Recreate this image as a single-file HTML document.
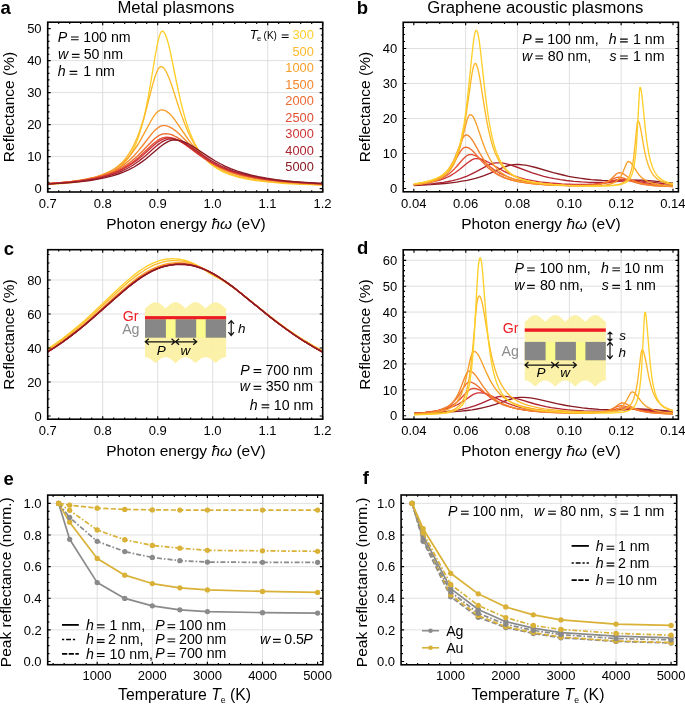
<!DOCTYPE html>
<html><head><meta charset="utf-8"><style>
html,body{margin:0;padding:0;background:#fff;width:685px;height:705px;overflow:hidden}
svg{display:block;will-change:transform}
text{font-family:"Liberation Sans", sans-serif}
</style></head><body>
<svg width="685" height="705" viewBox="0 0 685 705" font-family="Liberation Sans, sans-serif">
<defs>
<clipPath id="ca"><rect x="47.7" y="22.2" width="275.0" height="169.8"/></clipPath>
<clipPath id="cb"><rect x="403.2" y="22.3" width="275.2" height="169.5"/></clipPath>
<clipPath id="cc"><rect x="47.7" y="249.7" width="275.0" height="169.5"/></clipPath>
<clipPath id="cd"><rect x="403.2" y="249.8" width="275.2" height="169.39999999999998"/></clipPath>
</defs>
<rect width="685" height="705" fill="#fff"/>
<line x1="102.70" y1="22.20" x2="102.70" y2="192.00" stroke="#dcdcdc" stroke-width="0.9" />
<line x1="157.70" y1="22.20" x2="157.70" y2="192.00" stroke="#dcdcdc" stroke-width="0.9" />
<line x1="212.70" y1="22.20" x2="212.70" y2="192.00" stroke="#dcdcdc" stroke-width="0.9" />
<line x1="267.70" y1="22.20" x2="267.70" y2="192.00" stroke="#dcdcdc" stroke-width="0.9" />
<line x1="47.70" y1="156.60" x2="322.70" y2="156.60" stroke="#dcdcdc" stroke-width="0.9" />
<line x1="47.70" y1="124.60" x2="322.70" y2="124.60" stroke="#dcdcdc" stroke-width="0.9" />
<line x1="47.70" y1="92.60" x2="322.70" y2="92.60" stroke="#dcdcdc" stroke-width="0.9" />
<line x1="47.70" y1="60.60" x2="322.70" y2="60.60" stroke="#dcdcdc" stroke-width="0.9" />
<line x1="465.64" y1="22.30" x2="465.64" y2="191.80" stroke="#dcdcdc" stroke-width="0.9" />
<line x1="517.48" y1="22.30" x2="517.48" y2="191.80" stroke="#dcdcdc" stroke-width="0.9" />
<line x1="569.32" y1="22.30" x2="569.32" y2="191.80" stroke="#dcdcdc" stroke-width="0.9" />
<line x1="621.16" y1="22.30" x2="621.16" y2="191.80" stroke="#dcdcdc" stroke-width="0.9" />
<line x1="403.20" y1="153.50" x2="678.40" y2="153.50" stroke="#dcdcdc" stroke-width="0.9" />
<line x1="403.20" y1="118.50" x2="678.40" y2="118.50" stroke="#dcdcdc" stroke-width="0.9" />
<line x1="403.20" y1="83.50" x2="678.40" y2="83.50" stroke="#dcdcdc" stroke-width="0.9" />
<line x1="403.20" y1="48.50" x2="678.40" y2="48.50" stroke="#dcdcdc" stroke-width="0.9" />
<line x1="102.70" y1="249.70" x2="102.70" y2="419.20" stroke="#dcdcdc" stroke-width="0.9" />
<line x1="157.70" y1="249.70" x2="157.70" y2="419.20" stroke="#dcdcdc" stroke-width="0.9" />
<line x1="212.70" y1="249.70" x2="212.70" y2="419.20" stroke="#dcdcdc" stroke-width="0.9" />
<line x1="267.70" y1="249.70" x2="267.70" y2="419.20" stroke="#dcdcdc" stroke-width="0.9" />
<line x1="47.70" y1="382.00" x2="322.70" y2="382.00" stroke="#dcdcdc" stroke-width="0.9" />
<line x1="47.70" y1="348.00" x2="322.70" y2="348.00" stroke="#dcdcdc" stroke-width="0.9" />
<line x1="47.70" y1="314.00" x2="322.70" y2="314.00" stroke="#dcdcdc" stroke-width="0.9" />
<line x1="47.70" y1="280.00" x2="322.70" y2="280.00" stroke="#dcdcdc" stroke-width="0.9" />
<line x1="465.80" y1="249.80" x2="465.80" y2="419.20" stroke="#dcdcdc" stroke-width="0.9" />
<line x1="517.60" y1="249.80" x2="517.60" y2="419.20" stroke="#dcdcdc" stroke-width="0.9" />
<line x1="569.40" y1="249.80" x2="569.40" y2="419.20" stroke="#dcdcdc" stroke-width="0.9" />
<line x1="621.20" y1="249.80" x2="621.20" y2="419.20" stroke="#dcdcdc" stroke-width="0.9" />
<line x1="403.20" y1="389.80" x2="678.40" y2="389.80" stroke="#dcdcdc" stroke-width="0.9" />
<line x1="403.20" y1="363.90" x2="678.40" y2="363.90" stroke="#dcdcdc" stroke-width="0.9" />
<line x1="403.20" y1="338.00" x2="678.40" y2="338.00" stroke="#dcdcdc" stroke-width="0.9" />
<line x1="403.20" y1="312.10" x2="678.40" y2="312.10" stroke="#dcdcdc" stroke-width="0.9" />
<line x1="403.20" y1="286.20" x2="678.40" y2="286.20" stroke="#dcdcdc" stroke-width="0.9" />
<line x1="403.20" y1="260.30" x2="678.40" y2="260.30" stroke="#dcdcdc" stroke-width="0.9" />
<line x1="97.20" y1="495.10" x2="97.20" y2="664.70" stroke="#dcdcdc" stroke-width="0.9" />
<line x1="152.30" y1="495.10" x2="152.30" y2="664.70" stroke="#dcdcdc" stroke-width="0.9" />
<line x1="207.40" y1="495.10" x2="207.40" y2="664.70" stroke="#dcdcdc" stroke-width="0.9" />
<line x1="262.50" y1="495.10" x2="262.50" y2="664.70" stroke="#dcdcdc" stroke-width="0.9" />
<line x1="47.70" y1="629.88" x2="322.90" y2="629.88" stroke="#dcdcdc" stroke-width="0.9" />
<line x1="47.70" y1="598.26" x2="322.90" y2="598.26" stroke="#dcdcdc" stroke-width="0.9" />
<line x1="47.70" y1="566.64" x2="322.90" y2="566.64" stroke="#dcdcdc" stroke-width="0.9" />
<line x1="47.70" y1="535.02" x2="322.90" y2="535.02" stroke="#dcdcdc" stroke-width="0.9" />
<line x1="47.70" y1="503.40" x2="322.90" y2="503.40" stroke="#dcdcdc" stroke-width="0.9" />
<line x1="450.70" y1="495.00" x2="450.70" y2="664.80" stroke="#dcdcdc" stroke-width="0.9" />
<line x1="505.80" y1="495.00" x2="505.80" y2="664.80" stroke="#dcdcdc" stroke-width="0.9" />
<line x1="560.90" y1="495.00" x2="560.90" y2="664.80" stroke="#dcdcdc" stroke-width="0.9" />
<line x1="616.00" y1="495.00" x2="616.00" y2="664.80" stroke="#dcdcdc" stroke-width="0.9" />
<line x1="401.10" y1="629.88" x2="676.70" y2="629.88" stroke="#dcdcdc" stroke-width="0.9" />
<line x1="401.10" y1="598.26" x2="676.70" y2="598.26" stroke="#dcdcdc" stroke-width="0.9" />
<line x1="401.10" y1="566.64" x2="676.70" y2="566.64" stroke="#dcdcdc" stroke-width="0.9" />
<line x1="401.10" y1="535.02" x2="676.70" y2="535.02" stroke="#dcdcdc" stroke-width="0.9" />
<line x1="401.10" y1="503.40" x2="676.70" y2="503.40" stroke="#dcdcdc" stroke-width="0.9" />
<path d="M47.7 184.5L56.9 183.9L65.1 183.3L72.5 182.5L79.4 181.7L85.8 180.7L91.3 179.6L96.4 178.4L101.0 177.1L105.1 175.6L109.2 173.9L112.9 172.0L116.1 169.9L119.3 167.6L122.1 165.1L124.8 162.2L127.6 158.8L129.9 155.5L131.7 152.4L133.6 148.9L135.4 144.9L137.2 140.4L138.6 136.6L140.4 130.9L141.8 126.1L143.7 119.0L145.0 113.1L147.8 99.5L150.5 84.0L155.6 53.5L157.0 46.1L157.9 41.7L159.3 36.4L160.2 33.8L161.1 32.0L161.6 31.5L162.0 31.2L162.5 31.2L162.9 31.3L163.4 31.6L163.9 32.0L164.3 32.6L165.2 34.3L166.6 37.8L168.0 42.4L169.4 47.9L170.7 54.0L177.2 85.5L180.8 102.0L182.7 109.4L184.5 116.2L186.3 122.3L188.2 127.8L190.0 132.8L192.3 138.3L194.6 143.2L196.9 147.4L199.2 151.1L202.0 155.0L204.7 158.3L207.9 161.7L211.6 164.8L215.3 167.5L219.4 170.0L223.5 172.1L228.1 174.0L233.2 175.7L238.7 177.3L244.7 178.6L251.1 179.8L258.4 180.9L266.7 181.9L275.4 182.7L285.5 183.5L296.5 184.1L308.9 184.7L322.7 185.2" stroke="#FFCF2A" stroke-width="1.35" fill="none" stroke-linejoin="round" clip-path="url(#ca)"/>
<path d="M47.7 184.0L62.9 182.8L69.7 182.1L75.7 181.3L81.2 180.5L86.7 179.5L91.3 178.4L95.9 177.2L100.0 175.9L103.7 174.5L107.4 172.9L110.6 171.2L113.8 169.2L116.6 167.3L119.3 165.0L122.1 162.4L124.4 159.9L126.2 157.6L128.5 154.4L130.3 151.6L132.2 148.4L134.0 144.8L135.8 140.8L137.2 137.6L139.1 132.8L140.4 128.9L143.7 118.7L146.4 108.7L152.4 85.7L153.8 80.7L155.1 76.3L156.0 73.7L157.0 71.4L158.3 68.8L159.3 67.6L159.7 67.2L160.2 66.9L160.6 66.7L161.1 66.7L162.0 66.9L162.9 67.4L163.9 68.2L164.8 69.4L165.7 70.8L166.6 72.5L168.4 76.5L169.8 80.1L171.7 85.3L179.0 108.0L182.7 118.6L185.0 124.6L186.8 129.1L189.1 134.2L191.4 138.8L193.7 143.0L196.0 146.8L198.3 150.1L201.0 153.7L203.8 156.9L206.5 159.6L209.3 162.1L212.5 164.6L216.2 167.0L219.9 169.2L224.0 171.2L228.6 173.1L233.6 174.8L238.7 176.3L244.2 177.6L250.2 178.8L256.6 179.9L263.9 180.9L271.7 181.8L280.0 182.5L289.2 183.2L299.3 183.8L322.7 184.8" stroke="#FDB92A" stroke-width="1.35" fill="none" stroke-linejoin="round" clip-path="url(#ca)"/>
<path d="M47.7 183.6L60.6 182.6L71.6 181.4L81.2 180.0L85.8 179.1L89.9 178.2L93.6 177.3L97.3 176.3L101.0 175.1L104.2 173.9L107.4 172.6L110.6 171.0L113.4 169.5L116.1 167.9L120.2 164.9L122.5 163.1L124.4 161.4L128.0 157.8L131.7 153.4L135.4 148.4L139.1 142.6L142.7 136.2L150.5 121.7L152.4 118.5L154.2 115.7L155.6 113.9L156.5 112.8L158.3 111.2L159.3 110.6L160.2 110.2L161.1 109.9L162.0 109.9L162.9 110.0L164.3 110.3L165.2 110.7L166.6 111.4L168.9 113.1L170.3 114.4L171.7 115.9L174.0 118.7L176.2 121.8L185.9 136.0L190.5 142.3L193.2 145.8L195.5 148.6L197.8 151.1L200.6 154.0L202.9 156.1L205.6 158.5L208.4 160.7L211.1 162.7L213.9 164.5L216.6 166.2L219.4 167.6L222.6 169.2L226.3 170.8L230.4 172.4L234.6 173.8L239.1 175.1L243.7 176.3L248.8 177.4L254.3 178.4L259.8 179.3L265.8 180.2L272.2 180.9L286.9 182.3L303.4 183.4L322.7 184.3" stroke="#F8A02A" stroke-width="1.35" fill="none" stroke-linejoin="round" clip-path="url(#ca)"/>
<path d="M47.7 183.6L59.6 182.7L70.2 181.6L79.8 180.3L88.1 178.9L95.4 177.3L102.3 175.3L105.5 174.2L108.8 173.0L114.3 170.5L118.4 168.2L122.5 165.6L126.2 162.8L129.9 159.7L134.0 155.7L138.1 151.1L142.3 146.0L150.5 135.3L152.8 132.6L154.7 130.6L157.0 128.5L159.3 126.9L160.6 126.2L161.6 125.9L162.9 125.6L163.9 125.6L165.2 125.6L166.6 125.9L168.0 126.3L169.4 126.8L172.1 128.3L175.3 130.6L177.6 132.5L180.4 135.1L191.4 146.3L196.4 151.2L202.0 155.9L204.7 158.1L207.5 160.1L212.5 163.4L217.6 166.2L223.1 168.9L229.0 171.3L232.7 172.6L236.8 173.9L241.0 175.0L245.6 176.1L254.8 178.0L265.3 179.6L277.2 181.1L290.6 182.3L305.7 183.3L322.7 184.1" stroke="#F5862C" stroke-width="1.35" fill="none" stroke-linejoin="round" clip-path="url(#ca)"/>
<path d="M47.7 183.7L59.2 182.8L69.3 181.9L78.5 180.8L86.7 179.5L94.5 177.9L101.4 176.2L107.8 174.2L113.4 172.0L118.4 169.7L123.0 167.1L127.6 164.1L131.7 161.0L134.9 158.3L138.1 155.4L142.3 151.3L151.5 141.7L154.2 139.1L157.0 136.8L159.3 135.4L161.1 134.5L163.4 133.8L165.2 133.6L168.0 133.8L170.7 134.4L173.5 135.5L176.2 136.9L179.5 138.9L183.1 141.6L195.1 151.4L200.1 155.3L204.7 158.6L208.8 161.3L214.8 164.7L220.8 167.7L227.2 170.3L233.6 172.6L241.4 174.8L249.7 176.7L258.9 178.4L269.0 179.9L280.5 181.2L292.9 182.3L307.1 183.2L322.7 184.0" stroke="#EE6A30" stroke-width="1.35" fill="none" stroke-linejoin="round" clip-path="url(#ca)"/>
<path d="M47.7 183.7L59.2 182.9L69.3 182.0L78.5 181.0L86.7 179.7L94.1 178.4L101.0 176.8L107.4 174.9L113.4 172.8L118.4 170.6L123.0 168.3L127.6 165.6L132.2 162.5L135.4 160.0L138.6 157.4L142.7 153.6L152.4 144.6L155.1 142.3L157.9 140.2L160.2 138.9L162.5 137.9L164.8 137.3L166.6 137.1L169.4 137.3L172.1 137.8L174.9 138.7L178.1 140.2L181.3 142.0L185.0 144.4L197.8 153.9L202.9 157.4L207.0 160.1L211.1 162.5L217.1 165.7L223.1 168.4L229.5 170.9L235.9 173.0L243.7 175.2L252.0 177.0L261.2 178.6L270.8 180.0L281.8 181.2L293.8 182.2L307.5 183.1L322.7 183.9" stroke="#E24E34" stroke-width="1.35" fill="none" stroke-linejoin="round" clip-path="url(#ca)"/>
<path d="M47.7 183.8L59.2 183.0L69.7 182.1L78.9 181.1L87.2 179.9L95.0 178.5L101.9 176.9L108.3 175.1L114.3 173.0L119.3 170.9L123.9 168.7L128.5 166.0L133.1 163.0L136.3 160.6L140.0 157.7L143.7 154.5L153.8 145.3L156.5 143.0L159.3 141.1L161.6 139.8L163.9 138.8L166.1 138.2L168.0 138.0L170.7 138.2L173.5 138.7L176.2 139.6L179.5 141.0L182.2 142.5L185.4 144.5L189.1 147.0L198.3 153.6L202.9 156.8L207.9 160.0L213.0 163.0L218.5 165.8L224.5 168.5L230.9 171.0L237.3 173.1L244.7 175.1L252.9 176.9L262.1 178.5L271.7 179.9L282.8 181.1L294.7 182.2L308.0 183.1L322.7 183.8" stroke="#CE3336" stroke-width="1.35" fill="none" stroke-linejoin="round" clip-path="url(#ca)"/>
<path d="M47.7 184.0L59.6 183.2L70.2 182.3L79.8 181.3L88.6 180.1L96.4 178.8L103.7 177.2L110.1 175.4L116.1 173.4L121.2 171.4L126.2 169.0L130.8 166.5L135.4 163.5L138.6 161.2L142.3 158.4L146.4 154.9L156.0 146.3L158.8 144.1L161.6 142.2L163.9 140.9L166.1 139.9L168.4 139.2L170.7 139.0L173.5 139.2L176.7 139.8L179.5 140.7L182.7 142.1L185.4 143.6L188.6 145.5L206.1 157.4L211.1 160.6L215.7 163.2L221.2 166.0L227.2 168.6L233.6 171.1L240.1 173.1L247.4 175.1L255.7 176.9L264.4 178.5L273.6 179.8L284.1 181.0L295.6 182.0L308.5 182.9L322.7 183.7" stroke="#AD2230" stroke-width="1.35" fill="none" stroke-linejoin="round" clip-path="url(#ca)"/>
<path d="M47.7 184.2L60.1 183.4L71.1 182.6L81.2 181.6L89.9 180.5L98.2 179.2L105.5 177.7L112.4 175.9L118.4 174.0L123.9 171.9L129.0 169.7L134.0 167.0L138.6 164.1L141.8 161.9L145.5 159.2L149.6 155.8L160.2 146.8L162.9 144.7L165.7 142.9L168.0 141.6L170.3 140.7L172.6 140.1L174.9 140.0L177.6 140.1L180.8 140.8L183.6 141.7L186.8 143.1L189.6 144.5L192.8 146.4L210.2 157.9L215.3 161.0L219.9 163.5L225.4 166.3L231.3 168.9L237.3 171.1L243.3 173.0L250.6 175.0L258.4 176.7L266.7 178.2L275.9 179.6L286.0 180.8L297.0 181.8L309.4 182.7L322.7 183.5" stroke="#8A1A24" stroke-width="1.35" fill="none" stroke-linejoin="round" clip-path="url(#ca)"/>
<path d="M413.8 185.5L430.7 184.6L444.7 183.5L451.0 182.8L456.6 182.1L462.0 181.2L467.0 180.3L471.3 179.3L475.4 178.3L479.5 177.1L483.4 175.8L490.3 173.1L502.7 167.7L507.2 166.0L509.6 165.3L511.7 164.9L513.9 164.6L516.1 164.4L519.1 164.5L522.3 164.8L525.6 165.2L529.0 165.8L535.7 167.5L553.2 172.6L563.0 175.0L568.6 176.3L574.2 177.3L579.8 178.2L585.7 179.0L591.1 179.6L596.7 180.0L602.3 180.4L607.9 180.6L617.7 180.6L635.2 180.1L642.7 180.2L652.0 180.9L673.0 183.1" stroke="#8A1A24" stroke-width="1.35" fill="none" stroke-linejoin="round" clip-path="url(#cb)"/>
<path d="M413.8 185.1L427.2 184.2L433.0 183.7L438.4 183.0L443.4 182.3L448.2 181.5L452.5 180.6L456.6 179.6L460.1 178.6L463.5 177.4L467.0 176.1L470.2 174.7L475.8 171.9L486.0 166.3L489.9 164.4L491.8 163.7L493.8 163.2L495.7 162.9L497.5 162.8L500.3 162.9L503.3 163.2L506.3 163.8L509.6 164.7L515.2 166.5L526.9 170.9L532.3 172.9L538.1 174.7L543.7 176.3L549.1 177.6L554.5 178.7L560.4 179.7L566.4 180.5L574.0 181.3L581.8 181.9L589.6 182.3L597.3 182.4L603.6 182.3L609.7 182.0L628.3 180.5L631.7 180.4L635.0 180.5L638.6 180.7L642.7 181.1L661.3 183.3L673.0 184.4" stroke="#AD2230" stroke-width="1.35" fill="none" stroke-linejoin="round" clip-path="url(#cb)"/>
<path d="M413.8 184.6L423.5 183.5L427.9 182.8L431.7 182.1L435.4 181.2L438.9 180.3L442.1 179.3L445.1 178.1L448.0 176.9L450.6 175.6L453.1 174.0L455.5 172.5L459.8 169.2L467.6 162.7L470.7 160.6L472.2 159.7L473.7 159.1L475.2 158.7L476.7 158.6L478.9 158.8L481.0 159.2L483.2 159.9L485.6 160.9L489.7 163.0L499.0 168.5L503.7 171.2L508.9 173.7L514.1 175.8L519.7 177.7L525.8 179.3L532.5 180.6L539.6 181.8L544.8 182.4L550.2 183.0L561.9 183.8L574.6 184.3L586.5 184.3L594.5 184.0L601.7 183.5L608.4 182.7L620.7 180.6L623.9 180.3L627.2 180.3L630.4 180.5L634.1 180.9L648.1 183.2L655.7 184.2L663.9 185.0L673.0 185.6" stroke="#CE3336" stroke-width="1.35" fill="none" stroke-linejoin="round" clip-path="url(#cb)"/>
<path d="M413.8 184.6L418.8 184.1L423.3 183.4L427.4 182.7L431.1 181.9L434.6 180.9L437.8 179.8L440.6 178.7L443.4 177.3L445.8 176.0L448.2 174.4L450.3 172.7L452.5 170.8L454.4 168.9L456.4 166.8L463.1 159.0L465.5 156.7L466.8 155.7L468.1 155.0L469.4 154.6L470.4 154.5L472.2 154.6L473.9 155.1L475.8 155.9L477.8 157.0L481.2 159.5L489.2 166.0L493.6 169.3L498.3 172.3L503.1 174.9L505.7 176.0L508.5 177.2L511.3 178.2L514.3 179.1L520.8 180.7L527.9 182.0L533.6 182.8L539.8 183.5L546.8 184.0L554.1 184.5L562.3 184.9L570.5 185.1L578.3 185.1L585.2 185.0L593.9 184.5L597.6 184.1L601.0 183.7L604.0 183.1L607.1 182.4L614.8 180.2L617.0 179.6L619.4 179.2L621.5 179.2L624.1 179.3L627.0 179.8L640.1 182.9L644.2 183.6L648.6 184.3L653.8 184.9L659.4 185.4L665.6 185.9L673.0 186.2" stroke="#E24E34" stroke-width="1.35" fill="none" stroke-linejoin="round" clip-path="url(#cb)"/>
<path d="M413.8 184.6L418.8 184.0L423.1 183.3L427.0 182.4L430.7 181.4L433.9 180.3L436.9 179.0L439.7 177.5L442.3 175.8L444.5 174.1L446.7 172.1L448.6 170.0L450.6 167.5L453.4 163.4L459.4 153.1L460.7 151.1L461.8 149.6L462.9 148.5L463.7 147.8L464.8 147.3L465.7 147.1L467.0 147.3L468.5 147.8L470.0 148.7L471.7 150.0L473.2 151.5L474.8 153.1L481.9 161.4L485.8 165.6L487.9 167.7L490.1 169.5L492.3 171.2L494.4 172.7L497.0 174.3L499.6 175.7L502.4 177.0L505.2 178.1L508.3 179.1L511.5 180.1L515.0 180.9L518.6 181.7L524.9 182.7L531.8 183.6L539.6 184.3L548.5 184.9L558.6 185.3L569.2 185.5L579.0 185.5L587.0 185.3L591.5 185.1L595.6 184.7L599.1 184.1L602.3 183.4L604.9 182.7L607.5 181.7L609.7 180.7L614.0 178.4L615.5 177.8L617.2 177.3L618.7 177.2L620.7 177.4L622.6 177.8L625.0 178.7L631.1 181.1L634.1 182.2L638.2 183.4L642.7 184.3L648.4 185.1L655.1 185.8L663.1 186.2L673.0 186.6" stroke="#EE6A30" stroke-width="1.35" fill="none" stroke-linejoin="round" clip-path="url(#cb)"/>
<path d="M413.8 184.7L419.4 184.0L424.4 183.1L428.7 182.1L432.6 180.9L436.1 179.5L439.1 177.9L441.9 176.0L444.5 173.8L446.4 171.8L448.2 169.7L449.9 167.2L451.6 164.3L453.4 161.0L455.3 156.7L460.7 142.8L462.4 138.9L463.5 137.0L464.4 135.9L465.3 135.2L466.1 134.9L466.8 135.0L467.4 135.1L468.7 135.9L470.0 137.1L471.3 138.6L472.6 140.5L473.9 142.7L480.2 153.9L483.4 159.2L485.4 162.1L487.3 164.6L489.2 166.8L491.4 169.1L493.8 171.2L496.2 173.0L498.8 174.7L501.4 176.1L504.2 177.4L507.2 178.6L510.4 179.7L514.1 180.7L520.6 182.1L527.9 183.2L536.6 184.2L546.5 184.9L559.1 185.4L572.3 185.7L583.3 185.6L591.9 185.2L596.5 184.8L600.1 184.2L603.2 183.4L606.0 182.3L608.4 181.1L610.5 179.6L612.5 177.8L615.7 174.6L617.0 173.5L618.3 172.9L619.0 172.7L619.6 172.7L621.3 173.0L623.3 173.9L625.0 175.0L630.2 178.7L632.1 179.9L633.9 180.8L637.3 182.3L641.2 183.5L643.8 184.1L646.8 184.6L653.5 185.5L662.0 186.1L673.0 186.6" stroke="#F5862C" stroke-width="1.35" fill="none" stroke-linejoin="round" clip-path="url(#cb)"/>
<path d="M413.8 184.9L420.7 184.1L426.8 183.1L432.0 181.8L436.3 180.4L438.2 179.6L440.2 178.6L441.9 177.6L443.6 176.5L445.1 175.3L446.7 174.0L448.2 172.4L449.5 170.9L451.6 167.9L453.6 164.6L455.3 161.0L457.0 156.7L458.8 151.6L460.5 145.7L462.2 139.1L465.5 125.8L467.0 120.3L467.8 117.9L468.7 116.0L469.1 115.4L469.6 114.9L470.2 114.6L470.7 114.6L471.3 114.9L472.4 115.8L473.5 117.4L474.5 119.5L475.6 122.0L476.7 124.9L482.1 140.8L485.1 148.8L486.9 152.9L488.6 156.5L490.3 159.6L492.3 162.8L494.4 165.8L496.6 168.3L499.0 170.7L501.4 172.7L504.2 174.6L507.0 176.3L510.0 177.7L513.5 179.1L516.7 180.1L520.4 181.1L524.3 181.9L528.6 182.7L533.1 183.3L538.3 183.9L550.2 184.9L558.2 185.3L566.9 185.6L575.9 185.8L584.6 185.9L591.5 185.8L597.3 185.6L602.1 185.3L606.2 184.8L610.1 184.0L611.8 183.5L613.3 182.9L614.6 182.3L615.9 181.5L617.2 180.5L618.3 179.5L619.4 178.3L620.3 177.1L622.0 174.2L623.5 170.8L625.9 164.9L626.7 163.1L627.6 161.9L628.0 161.6L628.5 161.5L629.1 161.6L630.0 162.1L630.6 162.7L631.5 163.6L632.8 165.4L637.1 172.2L638.6 174.2L640.1 176.0L641.4 177.3L643.0 178.6L644.5 179.7L646.2 180.7L648.4 181.8L650.7 182.7L653.3 183.5L656.4 184.2L659.6 184.7L663.5 185.3L667.8 185.7L673.0 186.0" stroke="#F8A02A" stroke-width="1.35" fill="none" stroke-linejoin="round" clip-path="url(#cb)"/>
<path d="M413.8 184.0L418.1 183.4L422.2 182.7L425.9 182.0L429.1 181.2L432.2 180.3L435.0 179.3L437.6 178.2L440.0 177.0L442.1 175.7L444.3 174.1L446.2 172.4L448.0 170.7L449.7 168.7L451.2 166.6L452.7 164.2L454.2 161.5L456.4 156.7L458.5 150.7L460.5 143.9L462.2 136.6L464.0 127.8L465.7 117.5L467.4 105.8L470.7 82.2L472.2 72.6L473.0 68.4L473.7 66.0L474.1 64.8L474.5 64.0L475.0 63.6L475.2 63.5L475.6 63.6L476.1 64.1L476.5 64.8L476.9 65.8L477.8 68.6L478.7 72.3L480.2 80.4L484.7 109.1L487.3 123.8L488.6 130.1L490.1 136.6L491.6 142.3L493.1 147.3L494.9 152.2L496.8 156.8L499.0 161.0L501.1 164.5L503.5 167.6L506.1 170.4L508.9 172.8L512.2 175.1L515.6 177.0L519.3 178.6L523.4 180.0L528.2 181.2L533.3 182.3L539.4 183.2L546.1 184.0L553.5 184.6L564.7 185.3L577.2 185.7L590.4 185.9L601.4 185.9L608.8 185.6L614.4 185.1L616.8 184.7L618.7 184.3L620.5 183.8L622.2 183.1L623.9 182.3L625.4 181.2L626.7 179.9L627.8 178.6L628.9 176.8L629.8 175.0L630.6 172.6L631.5 169.6L632.6 164.6L633.7 157.7L634.7 148.3L636.9 125.9L637.5 121.8L637.8 121.2L638.0 120.9L638.4 121.1L639.1 122.3L639.5 123.6L640.1 126.2L641.0 130.6L644.2 149.1L645.3 154.4L646.4 158.9L647.5 162.7L648.6 166.0L649.9 169.2L651.2 171.8L652.9 174.5L654.6 176.6L656.8 178.6L659.2 180.3L662.0 181.7L665.0 182.8L668.7 183.8L673.0 184.6" stroke="#FDB92A" stroke-width="1.35" fill="none" stroke-linejoin="round" clip-path="url(#cb)"/>
<path d="M413.8 183.8L418.3 183.1L422.7 182.4L426.6 181.5L430.0 180.6L433.3 179.5L436.3 178.3L438.9 177.0L441.5 175.5L443.6 174.0L445.8 172.2L447.7 170.2L449.7 167.9L451.4 165.4L452.9 162.9L454.4 160.0L456.0 156.5L457.0 153.7L458.1 150.5L459.2 146.9L460.3 142.8L462.2 134.0L464.0 124.4L465.7 112.6L467.4 98.6L468.9 84.7L472.0 54.5L473.5 41.5L474.3 35.8L475.0 32.8L475.6 30.9L476.1 30.3L476.3 30.3L476.5 30.3L476.9 30.8L477.6 32.5L478.2 35.2L479.1 40.2L480.6 51.8L484.7 89.4L486.9 106.9L488.2 116.0L489.5 124.0L490.8 130.9L492.3 137.9L494.0 144.7L495.7 150.2L497.7 155.4L499.6 159.6L501.8 163.5L503.1 165.5L504.4 167.2L505.7 168.8L507.2 170.4L508.7 171.8L510.2 173.1L511.9 174.3L513.7 175.4L517.4 177.4L521.5 179.1L526.2 180.6L531.6 181.9L537.7 182.9L544.6 183.8L552.4 184.5L564.7 185.3L579.2 185.8L594.1 186.0L606.2 185.9L613.6 185.5L616.4 185.2L619.0 184.8L621.1 184.3L623.1 183.7L624.8 183.0L626.3 182.1L628.0 180.8L629.3 179.3L630.4 177.7L631.5 175.5L632.4 173.1L633.2 170.0L634.1 165.9L634.7 161.8L635.6 154.6L636.5 144.7L637.3 131.1L639.3 93.6L639.7 88.8L639.9 87.6L640.1 87.4L640.4 87.6L640.6 88.0L641.0 89.5L641.9 95.0L642.7 102.7L645.3 128.9L646.4 138.1L647.3 144.5L648.4 151.1L649.4 156.6L650.5 161.0L651.8 165.3L653.3 169.2L655.1 172.5L657.0 175.4L658.1 176.6L659.4 177.9L660.7 178.9L662.0 179.8L663.5 180.7L665.2 181.5L668.9 182.9L673.0 183.9" stroke="#FFCF2A" stroke-width="1.35" fill="none" stroke-linejoin="round" clip-path="url(#cb)"/>
<path d="M47.7 348.7L55.5 343.5L62.9 338.2L70.2 332.6L78.0 326.1L84.9 320.2L92.7 313.1L115.6 291.3L123.5 284.1L131.3 277.3L134.9 274.4L138.6 271.6L143.2 268.5L147.8 265.7L151.9 263.6L156.0 261.8L160.2 260.4L164.3 259.5L168.4 258.9L172.6 258.7L175.3 258.8L177.6 259.0L180.4 259.4L182.7 259.9L185.4 260.5L187.7 261.2L190.0 262.1L192.3 263.0L195.1 264.4L197.8 265.9L201.0 267.8L210.2 273.7L213.4 275.6L220.8 279.5L224.9 281.9L230.9 285.9L237.8 290.9L245.1 296.6L261.6 309.8L269.9 316.3L278.6 322.9L286.4 328.5L295.6 334.8L304.3 340.4L313.5 345.8L322.7 350.9" stroke="#FFCF2A" stroke-width="1.35" fill="none" stroke-linejoin="round" clip-path="url(#cc)"/>
<path d="M47.7 349.8L55.5 344.7L62.9 339.4L70.2 333.9L78.0 327.6L84.9 321.7L92.2 315.2L115.6 293.5L123.9 286.0L128.5 282.1L132.6 278.7L136.3 275.9L140.0 273.2L144.6 270.2L149.2 267.5L153.8 265.2L157.9 263.6L162.5 262.1L166.6 261.2L170.7 260.7L175.3 260.6L180.4 260.8L185.0 261.5L187.7 262.1L190.0 262.8L194.6 264.4L198.3 266.1L202.4 268.2L217.1 276.6L221.2 279.1L228.1 283.6L235.9 289.3L243.7 295.4L261.2 309.5L269.4 316.1L278.2 322.8L286.4 328.8L295.6 335.1L304.3 340.7L313.5 346.2L322.7 351.3" stroke="#FDB92A" stroke-width="1.35" fill="none" stroke-linejoin="round" clip-path="url(#cc)"/>
<path d="M47.7 351.0L55.0 346.3L62.4 341.2L69.7 335.8L77.5 329.7L84.4 324.0L92.2 317.2L116.1 295.6L124.4 288.4L129.0 284.5L133.1 281.2L137.2 278.1L140.9 275.6L145.9 272.3L150.5 269.8L155.1 267.6L159.7 265.8L164.3 264.4L168.9 263.4L173.5 262.9L178.5 262.7L183.1 262.9L187.7 263.5L191.9 264.4L196.4 265.8L201.0 267.5L206.1 269.9L211.6 272.8L217.6 276.3L221.2 278.6L225.4 281.4L229.5 284.4L234.1 287.8L242.8 294.7L261.2 309.7L269.4 316.3L278.2 323.0L286.4 329.1L295.6 335.5L304.3 341.1L313.5 346.7L322.7 351.8" stroke="#F8A02A" stroke-width="1.35" fill="none" stroke-linejoin="round" clip-path="url(#cc)"/>
<path d="M47.7 351.5L55.0 346.8L62.4 341.8L69.7 336.4L77.5 330.3L84.4 324.7L92.2 318.0L116.1 296.6L124.4 289.4L129.0 285.6L133.6 282.0L137.7 278.9L141.4 276.4L146.4 273.2L151.5 270.4L156.0 268.3L160.6 266.6L165.2 265.2L169.8 264.3L174.9 263.7L179.9 263.6L184.5 263.8L189.1 264.4L193.2 265.3L197.8 266.6L202.4 268.3L207.5 270.6L212.5 273.3L217.6 276.3L221.2 278.6L225.4 281.4L234.1 287.9L242.8 294.8L261.2 309.8L269.4 316.4L278.2 323.1L286.4 329.2L295.6 335.6L304.8 341.6L313.5 346.8L322.7 351.9" stroke="#F5862C" stroke-width="1.35" fill="none" stroke-linejoin="round" clip-path="url(#cc)"/>
<path d="M47.7 351.7L55.0 347.0L62.4 342.0L69.7 336.7L77.5 330.6L84.4 325.0L92.2 318.3L116.1 297.1L124.8 289.5L129.4 285.8L134.0 282.2L138.1 279.1L141.8 276.6L146.9 273.5L151.5 271.0L156.5 268.7L161.1 266.9L165.7 265.6L170.3 264.7L175.3 264.2L180.4 264.0L185.0 264.2L189.6 264.8L193.7 265.6L198.3 267.0L202.9 268.7L207.5 270.7L212.5 273.3L217.6 276.3L221.2 278.7L225.4 281.5L234.1 287.9L242.8 294.8L261.2 309.8L269.4 316.4L278.2 323.2L286.4 329.3L295.6 335.7L304.8 341.7L313.5 346.9L322.7 352.0" stroke="#EE6A30" stroke-width="1.35" fill="none" stroke-linejoin="round" clip-path="url(#cc)"/>
<path d="M47.7 351.8L55.0 347.2L62.4 342.1L69.7 336.8L77.5 330.8L84.4 325.1L92.2 318.5L116.1 297.3L124.8 289.8L129.4 286.0L134.0 282.4L138.1 279.4L141.8 276.9L146.9 273.7L151.5 271.2L156.5 268.9L161.1 267.2L165.7 265.8L170.3 264.9L175.3 264.3L180.4 264.2L185.0 264.3L189.6 264.9L193.7 265.7L198.3 267.0L202.9 268.7L207.5 270.8L212.5 273.4L217.6 276.3L221.2 278.7L225.4 281.5L230.0 284.8L234.6 288.3L243.3 295.2L261.2 309.8L269.4 316.4L278.2 323.2L286.4 329.3L295.6 335.7L304.8 341.7L313.5 347.0L322.7 352.1" stroke="#E24E34" stroke-width="1.35" fill="none" stroke-linejoin="round" clip-path="url(#cc)"/>
<path d="M47.7 351.9L55.0 347.2L62.4 342.2L69.7 336.8L77.5 330.8L84.4 325.2L92.2 318.5L116.1 297.3L124.8 289.8L129.4 286.1L134.0 282.5L138.1 279.5L141.8 276.9L146.9 273.8L151.9 271.1L157.0 268.8L161.6 267.1L166.1 265.8L170.7 264.9L175.8 264.4L180.8 264.2L185.4 264.4L189.6 264.9L194.2 265.9L198.7 267.2L203.3 268.9L207.9 271.0L212.5 273.4L217.6 276.4L221.2 278.7L225.4 281.5L230.0 284.8L234.6 288.3L243.3 295.2L261.2 309.8L269.4 316.5L278.2 323.2L286.4 329.3L295.6 335.7L304.8 341.7L313.5 347.0L322.7 352.1" stroke="#CE3336" stroke-width="1.35" fill="none" stroke-linejoin="round" clip-path="url(#cc)"/>
<path d="M47.7 351.9L55.0 347.2L62.4 342.2L69.7 336.9L77.5 330.8L84.4 325.2L92.2 318.6L116.1 297.4L124.8 289.9L129.4 286.1L134.0 282.6L138.1 279.5L141.8 277.0L146.9 273.9L151.9 271.1L157.0 268.9L161.6 267.2L166.1 265.9L170.7 265.0L175.8 264.4L180.8 264.3L185.4 264.5L189.6 265.0L194.2 265.9L198.7 267.3L203.3 269.0L207.9 271.0L212.5 273.4L217.6 276.4L221.2 278.7L225.4 281.5L230.0 284.9L234.6 288.3L243.3 295.2L261.2 309.8L269.4 316.5L278.2 323.2L286.4 329.3L295.6 335.7L304.8 341.7L313.5 347.0L322.7 352.1" stroke="#AD2230" stroke-width="1.35" fill="none" stroke-linejoin="round" clip-path="url(#cc)"/>
<path d="M47.7 351.9L55.0 347.3L62.4 342.3L69.7 336.9L77.5 330.9L84.4 325.3L92.2 318.6L116.1 297.5L124.8 290.0L129.4 286.2L134.0 282.6L138.1 279.6L141.8 277.1L146.9 274.0L151.9 271.2L157.0 268.9L161.6 267.2L166.1 266.0L170.7 265.1L175.8 264.5L180.8 264.4L185.4 264.5L189.6 265.0L194.2 266.0L198.7 267.3L203.3 269.0L207.9 271.1L212.5 273.4L217.6 276.4L221.2 278.7L225.4 281.6L230.0 284.9L234.6 288.3L243.3 295.2L261.2 309.8L269.4 316.5L278.2 323.2L286.4 329.3L295.6 335.8L304.8 341.7L313.5 347.0L322.7 352.1" stroke="#8A1A24" stroke-width="1.35" fill="none" stroke-linejoin="round" clip-path="url(#cc)"/>
<path d="M414.0 413.6L433.0 413.0L448.3 412.2L461.1 411.1L466.7 410.5L472.1 409.8L476.9 409.0L481.2 408.1L485.3 407.2L489.4 406.1L495.4 404.3L508.0 400.0L512.9 398.5L515.1 398.0L517.3 397.6L519.4 397.4L521.4 397.3L524.2 397.4L527.2 397.6L530.2 397.9L533.5 398.4L539.7 399.6L556.8 403.6L566.3 405.5L571.7 406.4L577.1 407.2L582.5 407.9L588.1 408.5L599.1 409.3L610.4 409.6L620.1 409.6L637.4 409.0L644.7 409.1L654.4 409.6L673.0 411.3" stroke="#8A1A24" stroke-width="1.35" fill="none" stroke-linejoin="round" clip-path="url(#cd)"/>
<path d="M414.0 413.5L429.3 412.8L441.9 412.0L452.2 410.9L457.0 410.2L461.3 409.4L465.0 408.6L468.7 407.7L472.1 406.7L475.3 405.7L481.2 403.4L491.5 398.9L495.2 397.6L497.2 397.0L498.9 396.7L500.6 396.5L502.3 396.4L504.9 396.5L507.7 396.7L510.6 397.2L513.6 397.8L518.8 399.2L535.0 404.0L540.6 405.4L546.0 406.6L551.2 407.6L556.6 408.4L562.2 409.2L568.2 409.8L575.8 410.4L583.8 410.9L591.8 411.1L599.6 411.2L605.8 411.1L612.1 410.8L630.9 409.4L634.1 409.3L637.4 409.4L641.2 409.5L645.6 409.8L663.1 411.6L673.0 412.4" stroke="#AD2230" stroke-width="1.35" fill="none" stroke-linejoin="round" clip-path="url(#cd)"/>
<path d="M414.0 413.1L425.2 412.3L434.3 411.2L438.2 410.6L441.9 409.9L445.3 409.1L448.6 408.1L451.4 407.2L454.0 406.2L456.6 405.0L458.9 403.8L463.3 401.2L471.0 395.9L473.8 394.2L475.3 393.6L476.6 393.2L477.9 392.9L479.2 392.8L481.2 392.9L483.3 393.2L485.5 393.7L487.9 394.5L491.8 396.1L500.8 400.4L505.4 402.4L510.6 404.4L515.7 406.1L521.4 407.6L527.2 408.8L533.7 409.8L540.8 410.7L551.6 411.6L563.9 412.2L576.9 412.5L589.2 412.5L597.2 412.2L604.3 411.7L611.0 411.0L623.3 409.2L626.6 408.9L629.6 408.9L633.0 409.1L636.7 409.4L650.5 411.3L657.7 412.1L665.0 412.8L673.0 413.3" stroke="#CE3336" stroke-width="1.35" fill="none" stroke-linejoin="round" clip-path="url(#cd)"/>
<path d="M414.0 413.3L425.2 412.5L430.0 411.9L434.1 411.3L438.0 410.6L441.4 409.7L444.7 408.8L447.5 407.7L449.9 406.6L452.2 405.3L454.6 403.8L456.8 402.2L460.0 399.3L466.7 392.3L468.0 391.1L469.3 390.0L470.4 389.3L471.5 388.8L472.5 388.5L473.4 388.4L474.9 388.5L476.6 388.9L478.4 389.5L480.3 390.4L483.6 392.4L491.3 397.7L495.4 400.3L500.0 402.8L504.7 404.9L509.9 406.8L515.7 408.3L522.0 409.6L529.1 410.7L535.0 411.3L541.2 411.9L548.4 412.3L555.9 412.7L564.3 412.9L572.8 413.1L580.8 413.1L587.9 412.9L596.5 412.5L603.7 411.7L606.7 411.3L609.7 410.6L619.6 408.2L622.0 407.8L624.2 407.8L626.8 407.9L629.8 408.3L642.5 410.9L646.4 411.6L650.5 412.2L655.3 412.7L660.5 413.1L673.0 413.8" stroke="#E24E34" stroke-width="1.35" fill="none" stroke-linejoin="round" clip-path="url(#cd)"/>
<path d="M414.0 413.4L420.3 413.0L425.7 412.5L430.4 411.9L434.5 411.1L438.2 410.3L441.6 409.2L444.7 408.0L447.3 406.7L449.2 405.5L451.2 404.1L453.1 402.3L454.8 400.5L456.6 398.5L458.5 395.8L463.9 387.1L465.6 384.6L466.7 383.4L467.6 382.6L468.7 382.1L469.5 382.0L470.8 382.1L472.3 382.6L473.8 383.3L475.3 384.2L478.2 386.5L485.3 393.2L489.2 396.6L491.3 398.2L493.5 399.7L495.7 401.1L498.0 402.4L500.6 403.7L503.2 404.8L506.0 405.8L508.8 406.7L515.1 408.3L522.2 409.7L528.5 410.5L535.6 411.3L543.6 411.9L552.5 412.4L562.6 412.7L573.0 412.9L582.3 413.0L590.1 412.8L594.6 412.5L598.7 412.2L602.1 411.7L605.2 411.1L607.8 410.4L610.4 409.6L616.4 406.9L618.1 406.3L619.9 405.8L621.4 405.7L623.3 405.9L625.3 406.3L627.6 407.0L633.7 409.2L636.7 410.1L640.6 411.1L644.9 411.9L650.1 412.6L656.4 413.2L663.9 413.6L673.0 413.9" stroke="#EE6A30" stroke-width="1.35" fill="none" stroke-linejoin="round" clip-path="url(#cd)"/>
<path d="M414.0 413.8L421.1 413.3L427.0 412.8L432.1 412.1L436.5 411.2L440.4 410.2L443.6 409.0L446.6 407.5L449.2 405.7L451.2 404.1L453.1 402.0L454.8 399.7L456.3 397.4L458.1 394.1L459.8 390.3L464.5 378.0L466.1 374.6L466.9 373.0L467.8 371.9L468.7 371.3L469.5 371.1L470.6 371.3L471.9 371.9L473.2 372.8L474.5 374.1L476.9 377.1L483.1 386.4L486.6 391.0L488.5 393.3L490.5 395.3L492.4 397.1L494.4 398.8L496.7 400.5L499.1 402.0L501.7 403.4L504.5 404.7L507.5 405.9L510.6 406.9L513.8 407.8L517.5 408.6L524.0 409.8L531.3 410.8L539.9 411.6L549.7 412.3L562.0 412.8L574.7 413.1L585.9 413.1L594.6 412.8L599.1 412.5L602.8 412.0L606.0 411.4L608.8 410.6L611.2 409.6L613.4 408.4L615.3 407.0L618.6 404.5L619.9 403.6L621.2 403.0L622.5 402.9L624.2 403.2L626.1 403.9L627.9 404.8L633.0 407.7L636.5 409.3L639.7 410.4L643.4 411.4L648.6 412.3L655.1 413.0L663.1 413.6L673.0 414.0" stroke="#F5862C" stroke-width="1.35" fill="none" stroke-linejoin="round" clip-path="url(#cd)"/>
<path d="M414.0 414.1L423.1 413.7L430.4 413.1L436.5 412.3L441.4 411.3L445.5 410.1L447.5 409.4L449.2 408.6L450.7 407.7L452.2 406.7L453.7 405.4L455.0 404.2L457.0 401.9L458.9 398.9L460.7 395.4L462.2 391.7L463.9 386.4L465.4 380.8L466.7 375.3L469.7 361.5L471.0 356.5L471.9 354.0L472.5 352.6L473.2 351.8L473.6 351.5L474.1 351.4L475.1 351.7L476.2 352.4L477.3 353.6L478.6 355.5L480.7 359.7L486.8 373.4L490.0 380.1L491.8 383.2L493.7 386.3L495.7 389.1L497.6 391.5L499.8 393.9L502.1 396.1L504.7 398.2L507.3 400.0L510.1 401.6L513.2 403.1L516.4 404.4L520.1 405.7L523.5 406.6L527.2 407.5L531.3 408.4L535.6 409.1L545.3 410.3L556.8 411.3L571.9 412.1L587.7 412.4L594.2 412.4L599.8 412.3L604.5 412.0L608.4 411.7L612.5 411.0L616.0 410.1L617.5 409.5L618.8 408.8L620.1 408.0L621.4 407.1L623.3 405.2L625.3 402.5L626.8 400.0L629.4 395.0L630.4 393.3L631.1 392.5L631.5 392.2L632.0 392.0L632.4 391.9L633.0 392.0L633.9 392.4L634.5 392.9L635.4 393.7L636.7 395.3L641.0 401.1L642.5 402.9L643.8 404.2L646.4 406.4L647.9 407.4L649.5 408.2L651.4 409.1L653.6 409.9L655.9 410.6L658.7 411.3L661.8 411.8L665.0 412.3L673.0 413.0" stroke="#F8A02A" stroke-width="1.35" fill="none" stroke-linejoin="round" clip-path="url(#cd)"/>
<path d="M414.0 414.5L426.7 414.1L436.0 413.5L439.9 413.1L443.2 412.7L446.2 412.1L448.8 411.5L451.2 410.7L453.3 409.8L455.3 408.8L457.0 407.6L458.5 406.3L460.0 404.7L461.3 403.0L462.6 400.9L463.7 398.8L464.5 396.7L465.4 394.3L466.3 391.6L467.8 385.4L469.3 377.3L470.6 368.2L471.9 356.8L473.2 343.2L475.6 315.8L476.6 305.5L477.3 301.0L477.9 298.0L478.6 296.4L478.8 296.2L479.2 296.0L479.7 296.1L479.9 296.3L480.3 296.9L480.7 297.9L481.4 299.8L482.3 303.3L484.0 312.5L488.3 339.1L490.5 350.7L491.8 356.8L493.3 363.0L494.8 368.4L496.5 373.7L498.5 378.7L500.4 382.9L502.6 386.7L504.7 389.9L507.1 392.9L509.9 395.7L512.9 398.2L516.2 400.3L519.8 402.2L523.7 403.9L528.3 405.4L533.2 406.7L538.6 407.9L544.7 408.9L551.6 409.7L559.2 410.5L569.7 411.2L581.2 411.7L592.9 412.0L603.0 412.0L610.4 411.8L616.0 411.3L620.5 410.5L622.5 410.0L624.2 409.4L625.9 408.6L627.6 407.5L629.1 406.3L630.4 404.8L631.5 403.3L632.6 401.3L633.7 398.8L634.5 396.2L635.4 393.0L636.1 390.1L637.4 382.7L638.2 376.5L640.2 359.8L641.0 353.4L641.7 350.5L641.9 350.0L642.1 349.8L642.3 349.8L642.8 350.1L643.4 351.3L643.8 352.6L644.5 355.0L645.6 360.0L648.6 375.8L649.7 380.7L650.8 385.0L651.8 388.7L652.9 391.9L654.0 394.6L655.1 396.8L656.6 399.5L658.1 401.6L660.0 403.8L662.0 405.4L664.1 406.9L666.7 408.2L669.8 409.3L673.0 410.3" stroke="#FDB92A" stroke-width="1.35" fill="none" stroke-linejoin="round" clip-path="url(#cd)"/>
<path d="M414.0 414.8L428.5 414.4L438.8 413.8L442.9 413.4L446.4 413.0L449.4 412.4L452.0 411.7L454.4 410.9L456.6 409.9L458.5 408.7L460.2 407.3L461.7 405.8L463.0 404.0L464.3 401.8L465.4 399.5L466.5 396.7L467.4 393.9L468.2 390.5L468.9 387.5L469.7 382.8L470.4 378.5L471.7 367.8L473.0 353.3L474.1 337.9L476.9 287.7L477.9 271.1L478.6 264.1L479.0 261.0L479.2 259.9L479.7 258.5L479.9 258.1L480.3 257.9L480.5 258.1L480.7 258.5L481.4 261.3L481.8 264.4L482.5 270.5L483.3 280.6L486.1 316.7L487.2 328.9L488.3 339.4L489.2 346.8L490.3 354.7L491.1 360.2L492.2 366.1L493.7 373.0L495.2 378.5L496.9 383.6L498.7 387.7L500.6 391.4L501.7 393.1L503.0 394.9L504.3 396.5L505.6 397.9L508.4 400.5L509.9 401.6L511.6 402.7L513.6 403.8L515.5 404.7L519.8 406.4L524.6 407.9L530.2 409.1L536.5 410.1L543.8 411.0L552.2 411.7L565.6 412.5L581.4 413.0L597.6 413.2L610.4 413.1L617.9 412.7L620.9 412.3L623.5 412.0L625.9 411.5L627.9 410.9L629.6 410.2L631.1 409.3L632.8 407.9L634.1 406.5L635.2 404.9L636.3 402.8L637.1 400.5L638.0 397.5L638.9 393.5L639.5 389.6L640.6 380.6L641.5 370.2L642.3 356.1L644.1 321.3L644.5 315.2L644.7 313.3L644.9 312.4L645.1 312.3L645.4 312.6L645.8 314.4L646.2 317.3L646.6 321.3L649.5 355.3L650.3 364.4L651.2 372.0L652.0 378.4L652.9 383.6L653.8 387.9L654.9 392.2L656.2 396.2L657.7 399.7L659.4 402.6L660.3 403.8L661.3 405.1L662.4 406.1L663.7 407.1L666.3 408.7L669.3 410.0L673.0 411.1" stroke="#FFCF2A" stroke-width="1.35" fill="none" stroke-linejoin="round" clip-path="url(#cd)"/>
<path d="M58.63 503.40L69.65 539.29L97.20 582.61L124.75 598.42L152.30 605.85L179.85 609.80L207.40 611.54L262.50 612.65L317.60 613.12" stroke="#8A8A8A" stroke-width="1.7" fill="none" stroke-linejoin="round"/>
<circle cx="58.63" cy="503.40" r="2.65" fill="#8A8A8A"/>
<circle cx="69.65" cy="539.29" r="2.65" fill="#8A8A8A"/>
<circle cx="97.20" cy="582.61" r="2.65" fill="#8A8A8A"/>
<circle cx="124.75" cy="598.42" r="2.65" fill="#8A8A8A"/>
<circle cx="152.30" cy="605.85" r="2.65" fill="#8A8A8A"/>
<circle cx="179.85" cy="609.80" r="2.65" fill="#8A8A8A"/>
<circle cx="207.40" cy="611.54" r="2.65" fill="#8A8A8A"/>
<circle cx="262.50" cy="612.65" r="2.65" fill="#8A8A8A"/>
<circle cx="317.60" cy="613.12" r="2.65" fill="#8A8A8A"/>
<path d="M58.63 503.40L69.65 522.21L97.20 558.42L124.75 575.18L152.30 583.56L179.85 587.83L207.40 589.88L262.50 591.46L317.60 592.41" stroke="#D9B136" stroke-width="1.7" fill="none" stroke-linejoin="round"/>
<circle cx="58.63" cy="503.40" r="2.65" fill="#D9B136"/>
<circle cx="69.65" cy="522.21" r="2.65" fill="#D9B136"/>
<circle cx="97.20" cy="558.42" r="2.65" fill="#D9B136"/>
<circle cx="124.75" cy="575.18" r="2.65" fill="#D9B136"/>
<circle cx="152.30" cy="583.56" r="2.65" fill="#D9B136"/>
<circle cx="179.85" cy="587.83" r="2.65" fill="#D9B136"/>
<circle cx="207.40" cy="589.88" r="2.65" fill="#D9B136"/>
<circle cx="262.50" cy="591.46" r="2.65" fill="#D9B136"/>
<circle cx="317.60" cy="592.41" r="2.65" fill="#D9B136"/>
<path d="M58.63 503.40L69.65 517.47L97.20 541.34L124.75 551.62L152.30 557.47L179.85 560.63L207.40 562.06L262.50 562.37L317.60 562.37" stroke="#8A8A8A" stroke-width="1.7" fill="none" stroke-linejoin="round" stroke-dasharray="5.0 2.0 1.6 2.0"/>
<circle cx="58.63" cy="503.40" r="2.65" fill="#8A8A8A"/>
<circle cx="69.65" cy="517.47" r="2.65" fill="#8A8A8A"/>
<circle cx="97.20" cy="541.34" r="2.65" fill="#8A8A8A"/>
<circle cx="124.75" cy="551.62" r="2.65" fill="#8A8A8A"/>
<circle cx="152.30" cy="557.47" r="2.65" fill="#8A8A8A"/>
<circle cx="179.85" cy="560.63" r="2.65" fill="#8A8A8A"/>
<circle cx="207.40" cy="562.06" r="2.65" fill="#8A8A8A"/>
<circle cx="262.50" cy="562.37" r="2.65" fill="#8A8A8A"/>
<circle cx="317.60" cy="562.37" r="2.65" fill="#8A8A8A"/>
<path d="M58.63 503.40L69.65 510.36L97.20 529.96L124.75 539.76L152.30 545.45L179.85 548.14L207.40 550.36L262.50 550.83L317.60 551.30" stroke="#D9B136" stroke-width="1.7" fill="none" stroke-linejoin="round" stroke-dasharray="5.0 2.0 1.6 2.0"/>
<circle cx="58.63" cy="503.40" r="2.65" fill="#D9B136"/>
<circle cx="69.65" cy="510.36" r="2.65" fill="#D9B136"/>
<circle cx="97.20" cy="529.96" r="2.65" fill="#D9B136"/>
<circle cx="124.75" cy="539.76" r="2.65" fill="#D9B136"/>
<circle cx="152.30" cy="545.45" r="2.65" fill="#D9B136"/>
<circle cx="179.85" cy="548.14" r="2.65" fill="#D9B136"/>
<circle cx="207.40" cy="550.36" r="2.65" fill="#D9B136"/>
<circle cx="262.50" cy="550.83" r="2.65" fill="#D9B136"/>
<circle cx="317.60" cy="551.30" r="2.65" fill="#D9B136"/>
<path d="M58.63 503.40L69.65 505.14L97.20 508.14L124.75 509.41L152.30 509.88L179.85 510.04L207.40 510.04L262.50 510.04L317.60 510.04" stroke="#D9B136" stroke-width="1.7" fill="none" stroke-linejoin="round" stroke-dasharray="5.2 2.3"/>
<circle cx="58.63" cy="503.40" r="2.65" fill="#D9B136"/>
<circle cx="69.65" cy="505.14" r="2.65" fill="#D9B136"/>
<circle cx="97.20" cy="508.14" r="2.65" fill="#D9B136"/>
<circle cx="124.75" cy="509.41" r="2.65" fill="#D9B136"/>
<circle cx="152.30" cy="509.88" r="2.65" fill="#D9B136"/>
<circle cx="179.85" cy="510.04" r="2.65" fill="#D9B136"/>
<circle cx="207.40" cy="510.04" r="2.65" fill="#D9B136"/>
<circle cx="262.50" cy="510.04" r="2.65" fill="#D9B136"/>
<circle cx="317.60" cy="510.04" r="2.65" fill="#D9B136"/>
<path d="M412.13 503.40L423.15 541.34L450.70 596.84L478.25 617.23L505.80 627.51L533.35 633.52L560.90 637.78L616.00 641.42L671.10 643.00" stroke="#8A8A8A" stroke-width="1.7" fill="none" stroke-linejoin="round" stroke-dasharray="5.2 2.3"/>
<circle cx="412.13" cy="503.40" r="2.65" fill="#8A8A8A"/>
<circle cx="423.15" cy="541.34" r="2.65" fill="#8A8A8A"/>
<circle cx="450.70" cy="596.84" r="2.65" fill="#8A8A8A"/>
<circle cx="478.25" cy="617.23" r="2.65" fill="#8A8A8A"/>
<circle cx="505.80" cy="627.51" r="2.65" fill="#8A8A8A"/>
<circle cx="533.35" cy="633.52" r="2.65" fill="#8A8A8A"/>
<circle cx="560.90" cy="637.78" r="2.65" fill="#8A8A8A"/>
<circle cx="616.00" cy="641.42" r="2.65" fill="#8A8A8A"/>
<circle cx="671.10" cy="643.00" r="2.65" fill="#8A8A8A"/>
<path d="M412.13 503.40L423.15 537.39L450.70 594.78L478.25 615.65L505.80 626.72L533.35 632.57L560.90 636.99L616.00 640.95L671.10 642.53" stroke="#D9B136" stroke-width="1.7" fill="none" stroke-linejoin="round" stroke-dasharray="5.2 2.3"/>
<circle cx="412.13" cy="503.40" r="2.65" fill="#D9B136"/>
<circle cx="423.15" cy="537.39" r="2.65" fill="#D9B136"/>
<circle cx="450.70" cy="594.78" r="2.65" fill="#D9B136"/>
<circle cx="478.25" cy="615.65" r="2.65" fill="#D9B136"/>
<circle cx="505.80" cy="626.72" r="2.65" fill="#D9B136"/>
<circle cx="533.35" cy="632.57" r="2.65" fill="#D9B136"/>
<circle cx="560.90" cy="636.99" r="2.65" fill="#D9B136"/>
<circle cx="616.00" cy="640.95" r="2.65" fill="#D9B136"/>
<circle cx="671.10" cy="642.53" r="2.65" fill="#D9B136"/>
<path d="M412.13 503.40L423.15 539.76L450.70 591.94L478.25 613.28L505.80 624.35L533.35 630.35L560.90 634.62L616.00 638.58L671.10 639.84" stroke="#8A8A8A" stroke-width="1.7" fill="none" stroke-linejoin="round" stroke-dasharray="5.0 2.0 1.6 2.0"/>
<circle cx="412.13" cy="503.40" r="2.65" fill="#8A8A8A"/>
<circle cx="423.15" cy="539.76" r="2.65" fill="#8A8A8A"/>
<circle cx="450.70" cy="591.94" r="2.65" fill="#8A8A8A"/>
<circle cx="478.25" cy="613.28" r="2.65" fill="#8A8A8A"/>
<circle cx="505.80" cy="624.35" r="2.65" fill="#8A8A8A"/>
<circle cx="533.35" cy="630.35" r="2.65" fill="#8A8A8A"/>
<circle cx="560.90" cy="634.62" r="2.65" fill="#8A8A8A"/>
<circle cx="616.00" cy="638.58" r="2.65" fill="#8A8A8A"/>
<circle cx="671.10" cy="639.84" r="2.65" fill="#8A8A8A"/>
<path d="M412.13 503.40L423.15 535.97L450.70 588.62L478.25 609.49L505.80 621.66L533.35 628.14L560.90 632.57L616.00 636.05L671.10 637.78" stroke="#8A8A8A" stroke-width="1.7" fill="none" stroke-linejoin="round"/>
<circle cx="412.13" cy="503.40" r="2.65" fill="#8A8A8A"/>
<circle cx="423.15" cy="535.97" r="2.65" fill="#8A8A8A"/>
<circle cx="450.70" cy="588.62" r="2.65" fill="#8A8A8A"/>
<circle cx="478.25" cy="609.49" r="2.65" fill="#8A8A8A"/>
<circle cx="505.80" cy="621.66" r="2.65" fill="#8A8A8A"/>
<circle cx="533.35" cy="628.14" r="2.65" fill="#8A8A8A"/>
<circle cx="560.90" cy="632.57" r="2.65" fill="#8A8A8A"/>
<circle cx="616.00" cy="636.05" r="2.65" fill="#8A8A8A"/>
<circle cx="671.10" cy="637.78" r="2.65" fill="#8A8A8A"/>
<path d="M412.13 503.40L423.15 532.81L450.70 584.51L478.25 605.37L505.80 617.55L533.35 625.45L560.90 629.41L616.00 633.36L671.10 635.26" stroke="#D9B136" stroke-width="1.7" fill="none" stroke-linejoin="round" stroke-dasharray="5.0 2.0 1.6 2.0"/>
<circle cx="412.13" cy="503.40" r="2.65" fill="#D9B136"/>
<circle cx="423.15" cy="532.81" r="2.65" fill="#D9B136"/>
<circle cx="450.70" cy="584.51" r="2.65" fill="#D9B136"/>
<circle cx="478.25" cy="605.37" r="2.65" fill="#D9B136"/>
<circle cx="505.80" cy="617.55" r="2.65" fill="#D9B136"/>
<circle cx="533.35" cy="625.45" r="2.65" fill="#D9B136"/>
<circle cx="560.90" cy="629.41" r="2.65" fill="#D9B136"/>
<circle cx="616.00" cy="633.36" r="2.65" fill="#D9B136"/>
<circle cx="671.10" cy="635.26" r="2.65" fill="#D9B136"/>
<path d="M412.13 503.40L423.15 528.70L450.70 573.28L478.25 593.83L505.80 606.96L533.35 614.86L560.90 619.92L616.00 624.03L671.10 625.45" stroke="#D9B136" stroke-width="1.7" fill="none" stroke-linejoin="round"/>
<circle cx="412.13" cy="503.40" r="2.65" fill="#D9B136"/>
<circle cx="423.15" cy="528.70" r="2.65" fill="#D9B136"/>
<circle cx="450.70" cy="573.28" r="2.65" fill="#D9B136"/>
<circle cx="478.25" cy="593.83" r="2.65" fill="#D9B136"/>
<circle cx="505.80" cy="606.96" r="2.65" fill="#D9B136"/>
<circle cx="533.35" cy="614.86" r="2.65" fill="#D9B136"/>
<circle cx="560.90" cy="619.92" r="2.65" fill="#D9B136"/>
<circle cx="616.00" cy="624.03" r="2.65" fill="#D9B136"/>
<circle cx="671.10" cy="625.45" r="2.65" fill="#D9B136"/>
<path d="M47.70 192.00v-3.0M47.70 22.20v3.0M102.70 192.00v-3.0M102.70 22.20v3.0M157.70 192.00v-3.0M157.70 22.20v3.0M212.70 192.00v-3.0M212.70 22.20v3.0M267.70 192.00v-3.0M267.70 22.20v3.0M322.70 192.00v-3.0M322.70 22.20v3.0M58.70 192.00v-1.8M58.70 22.20v1.8M69.70 192.00v-1.8M69.70 22.20v1.8M80.70 192.00v-1.8M80.70 22.20v1.8M91.70 192.00v-1.8M91.70 22.20v1.8M102.70 192.00v-1.8M102.70 22.20v1.8M113.70 192.00v-1.8M113.70 22.20v1.8M124.70 192.00v-1.8M124.70 22.20v1.8M135.70 192.00v-1.8M135.70 22.20v1.8M146.70 192.00v-1.8M146.70 22.20v1.8M157.70 192.00v-1.8M157.70 22.20v1.8M168.70 192.00v-1.8M168.70 22.20v1.8M179.70 192.00v-1.8M179.70 22.20v1.8M190.70 192.00v-1.8M190.70 22.20v1.8M201.70 192.00v-1.8M201.70 22.20v1.8M212.70 192.00v-1.8M212.70 22.20v1.8M223.70 192.00v-1.8M223.70 22.20v1.8M234.70 192.00v-1.8M234.70 22.20v1.8M245.70 192.00v-1.8M245.70 22.20v1.8M256.70 192.00v-1.8M256.70 22.20v1.8M267.70 192.00v-1.8M267.70 22.20v1.8M278.70 192.00v-1.8M278.70 22.20v1.8M289.70 192.00v-1.8M289.70 22.20v1.8M300.70 192.00v-1.8M300.70 22.20v1.8M311.70 192.00v-1.8M311.70 22.20v1.8M47.70 188.60h3.0M322.70 188.60h-3.0M47.70 156.60h3.0M322.70 156.60h-3.0M47.70 124.60h3.0M322.70 124.60h-3.0M47.70 92.60h3.0M322.70 92.60h-3.0M47.70 60.60h3.0M322.70 60.60h-3.0M47.70 28.60h3.0M322.70 28.60h-3.0M47.70 188.60h1.8M322.70 188.60h-1.8M47.70 182.20h1.8M322.70 182.20h-1.8M47.70 175.80h1.8M322.70 175.80h-1.8M47.70 169.40h1.8M322.70 169.40h-1.8M47.70 163.00h1.8M322.70 163.00h-1.8M47.70 156.60h1.8M322.70 156.60h-1.8M47.70 150.20h1.8M322.70 150.20h-1.8M47.70 143.80h1.8M322.70 143.80h-1.8M47.70 137.40h1.8M322.70 137.40h-1.8M47.70 131.00h1.8M322.70 131.00h-1.8M47.70 124.60h1.8M322.70 124.60h-1.8M47.70 118.20h1.8M322.70 118.20h-1.8M47.70 111.80h1.8M322.70 111.80h-1.8M47.70 105.40h1.8M322.70 105.40h-1.8M47.70 99.00h1.8M322.70 99.00h-1.8M47.70 92.60h1.8M322.70 92.60h-1.8M47.70 86.20h1.8M322.70 86.20h-1.8M47.70 79.80h1.8M322.70 79.80h-1.8M47.70 73.40h1.8M322.70 73.40h-1.8M47.70 67.00h1.8M322.70 67.00h-1.8M47.70 60.60h1.8M322.70 60.60h-1.8M47.70 54.20h1.8M322.70 54.20h-1.8M47.70 47.80h1.8M322.70 47.80h-1.8M47.70 41.40h1.8M322.70 41.40h-1.8M47.70 35.00h1.8M322.70 35.00h-1.8M47.70 28.60h1.8M322.70 28.60h-1.8" stroke="#000" stroke-width="1.15" fill="none"/>
<rect x="47.70" y="22.20" width="275.00" height="169.80" fill="none" stroke="#000" stroke-width="1.6"/>
<path d="M413.80 191.80v-3.0M413.80 22.30v3.0M465.64 191.80v-3.0M465.64 22.30v3.0M517.48 191.80v-3.0M517.48 22.30v3.0M569.32 191.80v-3.0M569.32 22.30v3.0M621.16 191.80v-3.0M621.16 22.30v3.0M673.00 191.80v-3.0M673.00 22.30v3.0M413.80 191.80v-1.8M413.80 22.30v1.8M426.76 191.80v-1.8M426.76 22.30v1.8M439.72 191.80v-1.8M439.72 22.30v1.8M452.68 191.80v-1.8M452.68 22.30v1.8M465.64 191.80v-1.8M465.64 22.30v1.8M478.60 191.80v-1.8M478.60 22.30v1.8M491.56 191.80v-1.8M491.56 22.30v1.8M504.52 191.80v-1.8M504.52 22.30v1.8M517.48 191.80v-1.8M517.48 22.30v1.8M530.44 191.80v-1.8M530.44 22.30v1.8M543.40 191.80v-1.8M543.40 22.30v1.8M556.36 191.80v-1.8M556.36 22.30v1.8M569.32 191.80v-1.8M569.32 22.30v1.8M582.28 191.80v-1.8M582.28 22.30v1.8M595.24 191.80v-1.8M595.24 22.30v1.8M608.20 191.80v-1.8M608.20 22.30v1.8M621.16 191.80v-1.8M621.16 22.30v1.8M634.12 191.80v-1.8M634.12 22.30v1.8M647.08 191.80v-1.8M647.08 22.30v1.8M660.04 191.80v-1.8M660.04 22.30v1.8M673.00 191.80v-1.8M673.00 22.30v1.8M403.20 188.50h3.0M678.40 188.50h-3.0M403.20 153.50h3.0M678.40 153.50h-3.0M403.20 118.50h3.0M678.40 118.50h-3.0M403.20 83.50h3.0M678.40 83.50h-3.0M403.20 48.50h3.0M678.40 48.50h-3.0M403.20 188.50h1.8M678.40 188.50h-1.8M403.20 181.50h1.8M678.40 181.50h-1.8M403.20 174.50h1.8M678.40 174.50h-1.8M403.20 167.50h1.8M678.40 167.50h-1.8M403.20 160.50h1.8M678.40 160.50h-1.8M403.20 153.50h1.8M678.40 153.50h-1.8M403.20 146.50h1.8M678.40 146.50h-1.8M403.20 139.50h1.8M678.40 139.50h-1.8M403.20 132.50h1.8M678.40 132.50h-1.8M403.20 125.50h1.8M678.40 125.50h-1.8M403.20 118.50h1.8M678.40 118.50h-1.8M403.20 111.50h1.8M678.40 111.50h-1.8M403.20 104.50h1.8M678.40 104.50h-1.8M403.20 97.50h1.8M678.40 97.50h-1.8M403.20 90.50h1.8M678.40 90.50h-1.8M403.20 83.50h1.8M678.40 83.50h-1.8M403.20 76.50h1.8M678.40 76.50h-1.8M403.20 69.50h1.8M678.40 69.50h-1.8M403.20 62.50h1.8M678.40 62.50h-1.8M403.20 55.50h1.8M678.40 55.50h-1.8M403.20 48.50h1.8M678.40 48.50h-1.8M403.20 41.50h1.8M678.40 41.50h-1.8M403.20 34.50h1.8M678.40 34.50h-1.8M403.20 27.50h1.8M678.40 27.50h-1.8" stroke="#000" stroke-width="1.15" fill="none"/>
<rect x="403.20" y="22.30" width="275.20" height="169.50" fill="none" stroke="#000" stroke-width="1.6"/>
<path d="M47.70 419.20v-3.0M47.70 249.70v3.0M102.70 419.20v-3.0M102.70 249.70v3.0M157.70 419.20v-3.0M157.70 249.70v3.0M212.70 419.20v-3.0M212.70 249.70v3.0M267.70 419.20v-3.0M267.70 249.70v3.0M322.70 419.20v-3.0M322.70 249.70v3.0M58.70 419.20v-1.8M58.70 249.70v1.8M69.70 419.20v-1.8M69.70 249.70v1.8M80.70 419.20v-1.8M80.70 249.70v1.8M91.70 419.20v-1.8M91.70 249.70v1.8M102.70 419.20v-1.8M102.70 249.70v1.8M113.70 419.20v-1.8M113.70 249.70v1.8M124.70 419.20v-1.8M124.70 249.70v1.8M135.70 419.20v-1.8M135.70 249.70v1.8M146.70 419.20v-1.8M146.70 249.70v1.8M157.70 419.20v-1.8M157.70 249.70v1.8M168.70 419.20v-1.8M168.70 249.70v1.8M179.70 419.20v-1.8M179.70 249.70v1.8M190.70 419.20v-1.8M190.70 249.70v1.8M201.70 419.20v-1.8M201.70 249.70v1.8M212.70 419.20v-1.8M212.70 249.70v1.8M223.70 419.20v-1.8M223.70 249.70v1.8M234.70 419.20v-1.8M234.70 249.70v1.8M245.70 419.20v-1.8M245.70 249.70v1.8M256.70 419.20v-1.8M256.70 249.70v1.8M267.70 419.20v-1.8M267.70 249.70v1.8M278.70 419.20v-1.8M278.70 249.70v1.8M289.70 419.20v-1.8M289.70 249.70v1.8M300.70 419.20v-1.8M300.70 249.70v1.8M311.70 419.20v-1.8M311.70 249.70v1.8M47.70 416.00h3.0M322.70 416.00h-3.0M47.70 382.00h3.0M322.70 382.00h-3.0M47.70 348.00h3.0M322.70 348.00h-3.0M47.70 314.00h3.0M322.70 314.00h-3.0M47.70 280.00h3.0M322.70 280.00h-3.0M47.70 416.00h1.8M322.70 416.00h-1.8M47.70 407.50h1.8M322.70 407.50h-1.8M47.70 399.00h1.8M322.70 399.00h-1.8M47.70 390.50h1.8M322.70 390.50h-1.8M47.70 382.00h1.8M322.70 382.00h-1.8M47.70 373.50h1.8M322.70 373.50h-1.8M47.70 365.00h1.8M322.70 365.00h-1.8M47.70 356.50h1.8M322.70 356.50h-1.8M47.70 348.00h1.8M322.70 348.00h-1.8M47.70 339.50h1.8M322.70 339.50h-1.8M47.70 331.00h1.8M322.70 331.00h-1.8M47.70 322.50h1.8M322.70 322.50h-1.8M47.70 314.00h1.8M322.70 314.00h-1.8M47.70 305.50h1.8M322.70 305.50h-1.8M47.70 297.00h1.8M322.70 297.00h-1.8M47.70 288.50h1.8M322.70 288.50h-1.8M47.70 280.00h1.8M322.70 280.00h-1.8M47.70 271.50h1.8M322.70 271.50h-1.8M47.70 263.00h1.8M322.70 263.00h-1.8M47.70 254.50h1.8M322.70 254.50h-1.8" stroke="#000" stroke-width="1.15" fill="none"/>
<rect x="47.70" y="249.70" width="275.00" height="169.50" fill="none" stroke="#000" stroke-width="1.6"/>
<path d="M414.00 419.20v-3.0M414.00 249.80v3.0M465.80 419.20v-3.0M465.80 249.80v3.0M517.60 419.20v-3.0M517.60 249.80v3.0M569.40 419.20v-3.0M569.40 249.80v3.0M621.20 419.20v-3.0M621.20 249.80v3.0M673.00 419.20v-3.0M673.00 249.80v3.0M414.00 419.20v-1.8M414.00 249.80v1.8M426.95 419.20v-1.8M426.95 249.80v1.8M439.90 419.20v-1.8M439.90 249.80v1.8M452.85 419.20v-1.8M452.85 249.80v1.8M465.80 419.20v-1.8M465.80 249.80v1.8M478.75 419.20v-1.8M478.75 249.80v1.8M491.70 419.20v-1.8M491.70 249.80v1.8M504.65 419.20v-1.8M504.65 249.80v1.8M517.60 419.20v-1.8M517.60 249.80v1.8M530.55 419.20v-1.8M530.55 249.80v1.8M543.50 419.20v-1.8M543.50 249.80v1.8M556.45 419.20v-1.8M556.45 249.80v1.8M569.40 419.20v-1.8M569.40 249.80v1.8M582.35 419.20v-1.8M582.35 249.80v1.8M595.30 419.20v-1.8M595.30 249.80v1.8M608.25 419.20v-1.8M608.25 249.80v1.8M621.20 419.20v-1.8M621.20 249.80v1.8M634.15 419.20v-1.8M634.15 249.80v1.8M647.10 419.20v-1.8M647.10 249.80v1.8M660.05 419.20v-1.8M660.05 249.80v1.8M673.00 419.20v-1.8M673.00 249.80v1.8M403.20 415.70h3.0M678.40 415.70h-3.0M403.20 389.80h3.0M678.40 389.80h-3.0M403.20 363.90h3.0M678.40 363.90h-3.0M403.20 338.00h3.0M678.40 338.00h-3.0M403.20 312.10h3.0M678.40 312.10h-3.0M403.20 286.20h3.0M678.40 286.20h-3.0M403.20 260.30h3.0M678.40 260.30h-3.0M403.20 415.70h1.8M678.40 415.70h-1.8M403.20 410.52h1.8M678.40 410.52h-1.8M403.20 405.34h1.8M678.40 405.34h-1.8M403.20 400.16h1.8M678.40 400.16h-1.8M403.20 394.98h1.8M678.40 394.98h-1.8M403.20 389.80h1.8M678.40 389.80h-1.8M403.20 384.62h1.8M678.40 384.62h-1.8M403.20 379.44h1.8M678.40 379.44h-1.8M403.20 374.26h1.8M678.40 374.26h-1.8M403.20 369.08h1.8M678.40 369.08h-1.8M403.20 363.90h1.8M678.40 363.90h-1.8M403.20 358.72h1.8M678.40 358.72h-1.8M403.20 353.54h1.8M678.40 353.54h-1.8M403.20 348.36h1.8M678.40 348.36h-1.8M403.20 343.18h1.8M678.40 343.18h-1.8M403.20 338.00h1.8M678.40 338.00h-1.8M403.20 332.82h1.8M678.40 332.82h-1.8M403.20 327.64h1.8M678.40 327.64h-1.8M403.20 322.46h1.8M678.40 322.46h-1.8M403.20 317.28h1.8M678.40 317.28h-1.8M403.20 312.10h1.8M678.40 312.10h-1.8M403.20 306.92h1.8M678.40 306.92h-1.8M403.20 301.74h1.8M678.40 301.74h-1.8M403.20 296.56h1.8M678.40 296.56h-1.8M403.20 291.38h1.8M678.40 291.38h-1.8M403.20 286.20h1.8M678.40 286.20h-1.8M403.20 281.02h1.8M678.40 281.02h-1.8M403.20 275.84h1.8M678.40 275.84h-1.8M403.20 270.66h1.8M678.40 270.66h-1.8M403.20 265.48h1.8M678.40 265.48h-1.8M403.20 260.30h1.8M678.40 260.30h-1.8M403.20 255.12h1.8M678.40 255.12h-1.8" stroke="#000" stroke-width="1.15" fill="none"/>
<rect x="403.20" y="249.80" width="275.20" height="169.40" fill="none" stroke="#000" stroke-width="1.6"/>
<path d="M97.20 664.70v-3.0M97.20 495.10v3.0M152.30 664.70v-3.0M152.30 495.10v3.0M207.40 664.70v-3.0M207.40 495.10v3.0M262.50 664.70v-3.0M262.50 495.10v3.0M317.60 664.70v-3.0M317.60 495.10v3.0M53.12 664.70v-1.8M53.12 495.10v1.8M64.14 664.70v-1.8M64.14 495.10v1.8M75.16 664.70v-1.8M75.16 495.10v1.8M86.18 664.70v-1.8M86.18 495.10v1.8M97.20 664.70v-1.8M97.20 495.10v1.8M108.22 664.70v-1.8M108.22 495.10v1.8M119.24 664.70v-1.8M119.24 495.10v1.8M130.26 664.70v-1.8M130.26 495.10v1.8M141.28 664.70v-1.8M141.28 495.10v1.8M152.30 664.70v-1.8M152.30 495.10v1.8M163.32 664.70v-1.8M163.32 495.10v1.8M174.34 664.70v-1.8M174.34 495.10v1.8M185.36 664.70v-1.8M185.36 495.10v1.8M196.38 664.70v-1.8M196.38 495.10v1.8M207.40 664.70v-1.8M207.40 495.10v1.8M218.42 664.70v-1.8M218.42 495.10v1.8M229.44 664.70v-1.8M229.44 495.10v1.8M240.46 664.70v-1.8M240.46 495.10v1.8M251.48 664.70v-1.8M251.48 495.10v1.8M262.50 664.70v-1.8M262.50 495.10v1.8M273.52 664.70v-1.8M273.52 495.10v1.8M284.54 664.70v-1.8M284.54 495.10v1.8M295.56 664.70v-1.8M295.56 495.10v1.8M306.58 664.70v-1.8M306.58 495.10v1.8M317.60 664.70v-1.8M317.60 495.10v1.8M47.70 661.50h3.0M322.90 661.50h-3.0M47.70 629.88h3.0M322.90 629.88h-3.0M47.70 598.26h3.0M322.90 598.26h-3.0M47.70 566.64h3.0M322.90 566.64h-3.0M47.70 535.02h3.0M322.90 535.02h-3.0M47.70 503.40h3.0M322.90 503.40h-3.0M47.70 661.50h1.8M322.90 661.50h-1.8M47.70 653.60h1.8M322.90 653.60h-1.8M47.70 645.69h1.8M322.90 645.69h-1.8M47.70 637.78h1.8M322.90 637.78h-1.8M47.70 629.88h1.8M322.90 629.88h-1.8M47.70 621.98h1.8M322.90 621.98h-1.8M47.70 614.07h1.8M322.90 614.07h-1.8M47.70 606.16h1.8M322.90 606.16h-1.8M47.70 598.26h1.8M322.90 598.26h-1.8M47.70 590.36h1.8M322.90 590.36h-1.8M47.70 582.45h1.8M322.90 582.45h-1.8M47.70 574.54h1.8M322.90 574.54h-1.8M47.70 566.64h1.8M322.90 566.64h-1.8M47.70 558.74h1.8M322.90 558.74h-1.8M47.70 550.83h1.8M322.90 550.83h-1.8M47.70 542.92h1.8M322.90 542.92h-1.8M47.70 535.02h1.8M322.90 535.02h-1.8M47.70 527.12h1.8M322.90 527.12h-1.8M47.70 519.21h1.8M322.90 519.21h-1.8M47.70 511.31h1.8M322.90 511.31h-1.8M47.70 503.40h1.8M322.90 503.40h-1.8" stroke="#000" stroke-width="1.15" fill="none"/>
<rect x="47.70" y="495.10" width="275.20" height="169.60" fill="none" stroke="#000" stroke-width="1.6"/>
<path d="M450.70 664.80v-3.0M450.70 495.00v3.0M505.80 664.80v-3.0M505.80 495.00v3.0M560.90 664.80v-3.0M560.90 495.00v3.0M616.00 664.80v-3.0M616.00 495.00v3.0M671.10 664.80v-3.0M671.10 495.00v3.0M406.62 664.80v-1.8M406.62 495.00v1.8M417.64 664.80v-1.8M417.64 495.00v1.8M428.66 664.80v-1.8M428.66 495.00v1.8M439.68 664.80v-1.8M439.68 495.00v1.8M450.70 664.80v-1.8M450.70 495.00v1.8M461.72 664.80v-1.8M461.72 495.00v1.8M472.74 664.80v-1.8M472.74 495.00v1.8M483.76 664.80v-1.8M483.76 495.00v1.8M494.78 664.80v-1.8M494.78 495.00v1.8M505.80 664.80v-1.8M505.80 495.00v1.8M516.82 664.80v-1.8M516.82 495.00v1.8M527.84 664.80v-1.8M527.84 495.00v1.8M538.86 664.80v-1.8M538.86 495.00v1.8M549.88 664.80v-1.8M549.88 495.00v1.8M560.90 664.80v-1.8M560.90 495.00v1.8M571.92 664.80v-1.8M571.92 495.00v1.8M582.94 664.80v-1.8M582.94 495.00v1.8M593.96 664.80v-1.8M593.96 495.00v1.8M604.98 664.80v-1.8M604.98 495.00v1.8M616.00 664.80v-1.8M616.00 495.00v1.8M627.02 664.80v-1.8M627.02 495.00v1.8M638.04 664.80v-1.8M638.04 495.00v1.8M649.06 664.80v-1.8M649.06 495.00v1.8M660.08 664.80v-1.8M660.08 495.00v1.8M671.10 664.80v-1.8M671.10 495.00v1.8M401.10 661.50h3.0M676.70 661.50h-3.0M401.10 629.88h3.0M676.70 629.88h-3.0M401.10 598.26h3.0M676.70 598.26h-3.0M401.10 566.64h3.0M676.70 566.64h-3.0M401.10 535.02h3.0M676.70 535.02h-3.0M401.10 503.40h3.0M676.70 503.40h-3.0M401.10 661.50h1.8M676.70 661.50h-1.8M401.10 653.60h1.8M676.70 653.60h-1.8M401.10 645.69h1.8M676.70 645.69h-1.8M401.10 637.78h1.8M676.70 637.78h-1.8M401.10 629.88h1.8M676.70 629.88h-1.8M401.10 621.98h1.8M676.70 621.98h-1.8M401.10 614.07h1.8M676.70 614.07h-1.8M401.10 606.16h1.8M676.70 606.16h-1.8M401.10 598.26h1.8M676.70 598.26h-1.8M401.10 590.36h1.8M676.70 590.36h-1.8M401.10 582.45h1.8M676.70 582.45h-1.8M401.10 574.54h1.8M676.70 574.54h-1.8M401.10 566.64h1.8M676.70 566.64h-1.8M401.10 558.74h1.8M676.70 558.74h-1.8M401.10 550.83h1.8M676.70 550.83h-1.8M401.10 542.92h1.8M676.70 542.92h-1.8M401.10 535.02h1.8M676.70 535.02h-1.8M401.10 527.12h1.8M676.70 527.12h-1.8M401.10 519.21h1.8M676.70 519.21h-1.8M401.10 511.31h1.8M676.70 511.31h-1.8M401.10 503.40h1.8M676.70 503.40h-1.8" stroke="#000" stroke-width="1.15" fill="none"/>
<rect x="401.10" y="495.00" width="275.60" height="169.80" fill="none" stroke="#000" stroke-width="1.6"/>
<text x="34.38" y="193.30" font-size="13"  fill="#000">0</text>
<text x="27.15" y="161.30" font-size="13"  fill="#000">10</text>
<text x="27.15" y="129.30" font-size="13"  fill="#000">20</text>
<text x="27.15" y="97.30" font-size="13"  fill="#000">30</text>
<text x="27.15" y="65.30" font-size="13"  fill="#000">40</text>
<text x="27.15" y="33.30" font-size="13"  fill="#000">50</text>
<text x="38.74" y="207.80" font-size="13"  fill="#000">0.7</text>
<text x="93.69" y="207.80" font-size="13"  fill="#000">0.8</text>
<text x="148.72" y="207.80" font-size="13"  fill="#000">0.9</text>
<text x="203.42" y="207.80" font-size="13"  fill="#000">1.0</text>
<text x="258.49" y="207.80" font-size="13"  fill="#000">1.1</text>
<text x="313.50" y="207.80" font-size="13"  fill="#000">1.2</text>
<text x="390.08" y="193.20" font-size="13"  fill="#000">0</text>
<text x="382.85" y="158.20" font-size="13"  fill="#000">10</text>
<text x="382.85" y="123.20" font-size="13"  fill="#000">20</text>
<text x="382.85" y="88.20" font-size="13"  fill="#000">30</text>
<text x="382.85" y="53.20" font-size="13"  fill="#000">40</text>
<text x="401.09" y="207.80" font-size="13"  fill="#000">0.04</text>
<text x="453.02" y="207.80" font-size="13"  fill="#000">0.06</text>
<text x="504.86" y="207.80" font-size="13"  fill="#000">0.08</text>
<text x="556.67" y="207.80" font-size="13"  fill="#000">0.10</text>
<text x="608.58" y="207.80" font-size="13"  fill="#000">0.12</text>
<text x="660.29" y="207.80" font-size="13"  fill="#000">0.14</text>
<text x="34.38" y="420.70" font-size="13"  fill="#000">0</text>
<text x="27.15" y="386.70" font-size="13"  fill="#000">20</text>
<text x="27.15" y="352.70" font-size="13"  fill="#000">40</text>
<text x="27.15" y="318.70" font-size="13"  fill="#000">60</text>
<text x="27.15" y="284.70" font-size="13"  fill="#000">80</text>
<text x="38.74" y="435.00" font-size="13"  fill="#000">0.7</text>
<text x="93.69" y="435.00" font-size="13"  fill="#000">0.8</text>
<text x="148.72" y="435.00" font-size="13"  fill="#000">0.9</text>
<text x="203.42" y="435.00" font-size="13"  fill="#000">1.0</text>
<text x="258.49" y="435.00" font-size="13"  fill="#000">1.1</text>
<text x="313.50" y="435.00" font-size="13"  fill="#000">1.2</text>
<text x="390.08" y="420.40" font-size="13"  fill="#000">0</text>
<text x="382.85" y="394.50" font-size="13"  fill="#000">10</text>
<text x="382.85" y="368.60" font-size="13"  fill="#000">20</text>
<text x="382.85" y="342.70" font-size="13"  fill="#000">30</text>
<text x="382.85" y="316.80" font-size="13"  fill="#000">40</text>
<text x="382.85" y="290.90" font-size="13"  fill="#000">50</text>
<text x="382.85" y="265.00" font-size="13"  fill="#000">60</text>
<text x="401.29" y="435.00" font-size="13"  fill="#000">0.04</text>
<text x="453.18" y="435.00" font-size="13"  fill="#000">0.06</text>
<text x="504.98" y="435.00" font-size="13"  fill="#000">0.08</text>
<text x="556.75" y="435.00" font-size="13"  fill="#000">0.10</text>
<text x="608.62" y="435.00" font-size="13"  fill="#000">0.12</text>
<text x="660.29" y="435.00" font-size="13"  fill="#000">0.14</text>
<text x="23.54" y="666.20" font-size="13"  fill="#000">0.0</text>
<text x="377.04" y="666.20" font-size="13"  fill="#000">0.0</text>
<text x="23.68" y="634.58" font-size="13"  fill="#000">0.2</text>
<text x="377.18" y="634.58" font-size="13"  fill="#000">0.2</text>
<text x="23.41" y="602.96" font-size="13"  fill="#000">0.4</text>
<text x="376.91" y="602.96" font-size="13"  fill="#000">0.4</text>
<text x="23.60" y="571.34" font-size="13"  fill="#000">0.6</text>
<text x="377.10" y="571.34" font-size="13"  fill="#000">0.6</text>
<text x="23.59" y="539.72" font-size="13"  fill="#000">0.8</text>
<text x="377.09" y="539.72" font-size="13"  fill="#000">0.8</text>
<text x="23.54" y="508.10" font-size="13"  fill="#000">1.0</text>
<text x="377.04" y="508.10" font-size="13"  fill="#000">1.0</text>
<text x="82.50" y="679.80" font-size="13"  fill="#000">1000</text>
<text x="436.00" y="679.80" font-size="13"  fill="#000">1000</text>
<text x="137.77" y="679.80" font-size="13"  fill="#000">2000</text>
<text x="491.27" y="679.80" font-size="13"  fill="#000">2000</text>
<text x="192.95" y="679.80" font-size="13"  fill="#000">3000</text>
<text x="546.45" y="679.80" font-size="13"  fill="#000">3000</text>
<text x="248.14" y="679.80" font-size="13"  fill="#000">4000</text>
<text x="601.64" y="679.80" font-size="13"  fill="#000">4000</text>
<text x="303.13" y="679.80" font-size="13"  fill="#000">5000</text>
<text x="656.63" y="679.80" font-size="13"  fill="#000">5000</text>
<text x="0.56" y="14.00" font-size="18.5" font-weight="bold" fill="#000">a</text>
<text x="356.68" y="14.00" font-size="18.5" font-weight="bold" fill="#000">b</text>
<text x="3.68" y="254.50" font-size="18.5" font-weight="bold" fill="#000">c</text>
<text x="357.04" y="254.30" font-size="18.5" font-weight="bold" fill="#000">d</text>
<text x="3.38" y="484.50" font-size="18.5" font-weight="bold" fill="#000">e</text>
<text x="362.78" y="484.00" font-size="18.5" font-weight="bold" fill="#000">f</text>
<text x="117.43" y="12.80" font-size="16.7"  fill="#000">Metal plasmons</text>
<text x="427.16" y="12.50" font-size="16.7"  fill="#000">Graphene acoustic plasmons</text>
<text x="106.29" y="228.60" font-size="15.5" fill="#000">Photon energy <tspan font-style="italic">ħω</tspan> (eV)</text>
<text x="461.29" y="228.60" font-size="15.5" fill="#000">Photon energy <tspan font-style="italic">ħω</tspan> (eV)</text>
<text x="106.29" y="455.60" font-size="15.5" fill="#000">Photon energy <tspan font-style="italic">ħω</tspan> (eV)</text>
<text x="461.29" y="455.60" font-size="15.5" fill="#000">Photon energy <tspan font-style="italic">ħω</tspan> (eV)</text>
<text x="118.11" y="699.80" font-size="15.8" fill="#000">Temperature <tspan font-style="italic">T</tspan><tspan font-size="8.69" dy="3.6">e</tspan><tspan dy="-3.6"> (K)</tspan></text>
<text x="471.41" y="699.80" font-size="15.8" fill="#000">Temperature <tspan font-style="italic">T</tspan><tspan font-size="8.69" dy="3.6">e</tspan><tspan dy="-3.6"> (K)</tspan></text>
<text x="14.30" y="107.00" font-size="15.5" fill="#000" text-anchor="middle" transform="rotate(-90 14.30 107.00)">Reflectance (%)</text>
<text x="369.80" y="107.00" font-size="15.5" fill="#000" text-anchor="middle" transform="rotate(-90 369.80 107.00)">Reflectance (%)</text>
<text x="14.30" y="334.50" font-size="15.5" fill="#000" text-anchor="middle" transform="rotate(-90 14.30 334.50)">Reflectance (%)</text>
<text x="369.80" y="334.50" font-size="15.5" fill="#000" text-anchor="middle" transform="rotate(-90 369.80 334.50)">Reflectance (%)</text>
<text x="11.40" y="582.30" font-size="15.5" fill="#000" text-anchor="middle" transform="rotate(-90 11.40 582.30)">Peak reflectance (norm.)</text>
<text x="366.90" y="582.30" font-size="15.5" fill="#000" text-anchor="middle" transform="rotate(-90 366.90 582.30)">Peak reflectance (norm.)</text>
<text x="57.66" y="41.80" font-size="14.2" font-style="italic" fill="#000">P</text>
<path d="M71.00 36.97h7.67M71.00 39.81h7.67" stroke="#000" stroke-width="1.11"/>
<text x="83.32" y="41.80" font-size="14.2"  fill="#000">100 nm</text>
<text x="57.89" y="59.20" font-size="14.2" font-style="italic" fill="#000">w</text>
<path d="M71.90 54.37h7.67M71.90 57.21h7.67" stroke="#000" stroke-width="1.11"/>
<text x="83.63" y="59.20" font-size="14.2"  fill="#000">50 nm</text>
<text x="57.66" y="76.20" font-size="14.2" font-style="italic" fill="#000">h</text>
<path d="M69.60 71.37h7.67M69.60 74.21h7.67" stroke="#000" stroke-width="1.11"/>
<text x="83.32" y="76.20" font-size="14.2"  fill="#000">1 nm</text>
<text x="522.26" y="43.90" font-size="14.2" font-style="italic" fill="#000">P</text>
<path d="M535.40 39.07h7.67M535.40 41.91h7.67" stroke="#000" stroke-width="1.11"/>
<text x="547.32" y="43.90" font-size="14.2"  fill="#000">100 nm,</text>
<text x="608.76" y="43.90" font-size="14.2" font-style="italic" fill="#000">h</text>
<path d="M620.10 39.07h7.67M620.10 41.91h7.67" stroke="#000" stroke-width="1.11"/>
<text x="633.02" y="43.90" font-size="14.2"  fill="#000">1 nm</text>
<text x="521.99" y="60.80" font-size="14.2" font-style="italic" fill="#000">w</text>
<path d="M535.40 55.97h7.67M535.40 58.81h7.67" stroke="#000" stroke-width="1.11"/>
<text x="547.78" y="60.80" font-size="14.2"  fill="#000">80 nm,</text>
<text x="609.57" y="60.80" font-size="14.2" font-style="italic" fill="#000">s</text>
<path d="M620.10 55.97h7.67M620.10 58.81h7.67" stroke="#000" stroke-width="1.11"/>
<text x="633.02" y="60.80" font-size="14.2"  fill="#000">1 nm</text>
<text x="292.44" y="39.30" font-size="12.8"  fill="#FFCF2A">300</text>
<text x="292.44" y="55.80" font-size="12.8"  fill="#FDB92A">500</text>
<text x="285.32" y="72.30" font-size="12.8"  fill="#F8A02A">1000</text>
<text x="285.32" y="88.80" font-size="12.8"  fill="#F5862C">1500</text>
<text x="285.32" y="105.30" font-size="12.8"  fill="#EE6A30">2000</text>
<text x="285.32" y="121.80" font-size="12.8"  fill="#E24E34">2500</text>
<text x="285.32" y="138.30" font-size="12.8"  fill="#CE3336">3000</text>
<text x="285.32" y="154.80" font-size="12.8"  fill="#AD2230">4000</text>
<text x="285.32" y="171.30" font-size="12.8"  fill="#8A1A24">5000</text>
<text x="249.85" y="39.30" font-size="12.8" font-style="italic" fill="#000">T</text>
<text x="256.88" y="40.60" font-size="7.5"  fill="#000">e</text>
<text x="263.58" y="39.40" font-size="10.0"  fill="#000">(K)</text>
<path d="M281.70 34.95h6.91M281.70 37.51h6.91" stroke="#000" stroke-width="1.00"/>
<text x="240.36" y="374.50" font-size="14.2" font-style="italic" fill="#000">P</text>
<path d="M253.60 369.67h7.67M253.60 372.51h7.67" stroke="#000" stroke-width="1.11"/>
<text x="265.47" y="374.50" font-size="14.2"  fill="#000">700 nm</text>
<text x="239.79" y="391.20" font-size="14.2" font-style="italic" fill="#000">w</text>
<path d="M253.60 386.37h7.67M253.60 389.21h7.67" stroke="#000" stroke-width="1.11"/>
<text x="265.66" y="391.20" font-size="14.2"  fill="#000">350 nm</text>
<text x="249.76" y="409.70" font-size="14.2" font-style="italic" fill="#000">h</text>
<path d="M261.60 404.87h7.67M261.60 407.71h7.67" stroke="#000" stroke-width="1.11"/>
<text x="273.82" y="409.70" font-size="14.2"  fill="#000">10 nm</text>
<text x="514.56" y="272.80" font-size="14.2" font-style="italic" fill="#000">P</text>
<path d="M527.10 267.97h7.67M527.10 270.81h7.67" stroke="#000" stroke-width="1.11"/>
<text x="539.42" y="272.80" font-size="14.2"  fill="#000">100 nm,</text>
<text x="600.96" y="272.80" font-size="14.2" font-style="italic" fill="#000">h</text>
<path d="M612.30 267.97h7.67M612.30 270.81h7.67" stroke="#000" stroke-width="1.11"/>
<text x="624.32" y="272.80" font-size="14.2"  fill="#000">10 nm</text>
<text x="514.29" y="290.20" font-size="14.2" font-style="italic" fill="#000">w</text>
<path d="M527.10 285.37h7.67M527.10 288.21h7.67" stroke="#000" stroke-width="1.11"/>
<text x="539.88" y="290.20" font-size="14.2"  fill="#000">80 nm,</text>
<text x="601.77" y="290.20" font-size="14.2" font-style="italic" fill="#000">s</text>
<path d="M612.30 285.37h7.67M612.30 288.21h7.67" stroke="#000" stroke-width="1.11"/>
<text x="624.32" y="290.20" font-size="14.2"  fill="#000">1 nm</text>
<text x="447.96" y="516.10" font-size="14.2" font-style="italic" fill="#000">P</text>
<path d="M461.00 511.27h7.67M461.00 514.11h7.67" stroke="#000" stroke-width="1.11"/>
<text x="472.42" y="516.10" font-size="14.2"  fill="#000">100 nm,</text>
<text x="534.09" y="516.10" font-size="14.2" font-style="italic" fill="#000">w</text>
<path d="M548.20 511.27h7.67M548.20 514.11h7.67" stroke="#000" stroke-width="1.11"/>
<text x="560.28" y="516.10" font-size="14.2"  fill="#000">80 nm,</text>
<text x="609.57" y="516.10" font-size="14.2" font-style="italic" fill="#000">s</text>
<path d="M620.50 511.27h7.67M620.50 514.11h7.67" stroke="#000" stroke-width="1.11"/>
<text x="632.82" y="516.10" font-size="14.2"  fill="#000">1 nm</text>
<text x="259.99" y="644.20" font-size="14.2" font-style="italic" fill="#000">w</text>
<path d="M273.00 639.37h7.67M273.00 642.21h7.67" stroke="#000" stroke-width="1.11"/>
<text x="284.25" y="644.20" font-size="14.2"  fill="#000">0.5</text>
<text x="303.16" y="644.20" font-size="14.2" font-style="italic" fill="#000">P</text>
<line x1="62.0" y1="624.9" x2="78.8" y2="624.9" stroke="#000" stroke-width="1.8"/>
<line x1="62.0" y1="639.5" x2="76.0" y2="639.5" stroke="#000" stroke-width="1.7" stroke-dasharray="4.9 1.9 2.2 1.9" stroke-dashoffset="6.8"/>
<line x1="62.0" y1="653.8" x2="78.8" y2="653.8" stroke="#000" stroke-width="1.7" stroke-dasharray="5.2 1.5" stroke-dashoffset="0"/>
<text x="85.96" y="629.70" font-size="14.2" font-style="italic" fill="#000">h</text>
<path d="M96.90 624.87h7.67M96.90 627.71h7.67" stroke="#000" stroke-width="1.11"/>
<text x="109.62" y="629.70" font-size="14.2"  fill="#000">1 nm,</text>
<text x="85.96" y="644.40" font-size="14.2" font-style="italic" fill="#000">h</text>
<path d="M96.90 639.57h7.67M96.90 642.41h7.67" stroke="#000" stroke-width="1.11"/>
<text x="108.09" y="644.40" font-size="14.2"  fill="#000">2 nm,</text>
<text x="85.96" y="658.50" font-size="14.2" font-style="italic" fill="#000">h</text>
<path d="M96.90 653.67h7.67M96.90 656.51h7.67" stroke="#000" stroke-width="1.11"/>
<text x="109.62" y="658.50" font-size="14.2"  fill="#000">10 nm,</text>
<text x="155.36" y="629.60" font-size="14.2" font-style="italic" fill="#000">P</text>
<path d="M167.50 624.77h7.67M167.50 627.61h7.67" stroke="#000" stroke-width="1.11"/>
<text x="178.72" y="629.60" font-size="14.2"  fill="#000">100 nm</text>
<text x="155.36" y="643.80" font-size="14.2" font-style="italic" fill="#000">P</text>
<path d="M167.50 638.97h7.67M167.50 641.81h7.67" stroke="#000" stroke-width="1.11"/>
<text x="179.09" y="643.80" font-size="14.2"  fill="#000">200 nm</text>
<text x="155.36" y="658.30" font-size="14.2" font-style="italic" fill="#000">P</text>
<path d="M167.50 653.47h7.67M167.50 656.31h7.67" stroke="#000" stroke-width="1.11"/>
<text x="179.07" y="658.30" font-size="14.2"  fill="#000">700 nm</text>
<line x1="571.6" y1="545.9" x2="588.9" y2="545.9" stroke="#000" stroke-width="1.8"/>
<line x1="571.6" y1="563.0" x2="588.9" y2="563.0" stroke="#000" stroke-width="1.7" stroke-dasharray="4.9 1.9 2.2 1.9" stroke-dashoffset="6.8"/>
<line x1="571.6" y1="580.2" x2="588.9" y2="580.2" stroke="#000" stroke-width="1.7" stroke-dasharray="5.2 1.5" stroke-dashoffset="0"/>
<text x="595.86" y="551.10" font-size="14.2" font-style="italic" fill="#000">h</text>
<path d="M606.60 546.27h7.67M606.60 549.11h7.67" stroke="#000" stroke-width="1.11"/>
<text x="618.02" y="551.10" font-size="14.2"  fill="#000">1 nm</text>
<text x="595.86" y="567.90" font-size="14.2" font-style="italic" fill="#000">h</text>
<path d="M606.60 563.07h7.67M606.60 565.91h7.67" stroke="#000" stroke-width="1.11"/>
<text x="617.89" y="567.90" font-size="14.2"  fill="#000">2 nm</text>
<text x="595.86" y="584.80" font-size="14.2" font-style="italic" fill="#000">h</text>
<path d="M606.60 579.97h7.67M606.60 582.81h7.67" stroke="#000" stroke-width="1.11"/>
<text x="617.52" y="584.80" font-size="14.2"  fill="#000">10 nm</text>
<line x1="422.0" y1="630.7" x2="439.0" y2="630.7" stroke="#8A8A8A" stroke-width="1.6"/>
<line x1="422.0" y1="647.8" x2="439.0" y2="647.8" stroke="#D9B136" stroke-width="1.6"/>
<circle cx="430.5" cy="630.7" r="2.3" fill="#8A8A8A"/>
<circle cx="430.5" cy="647.8" r="2.3" fill="#D9B136"/>
<text x="446.17" y="635.80" font-size="14.2"  fill="#000">Ag</text>
<text x="446.17" y="652.70" font-size="14.2"  fill="#000">Au</text>
<path d="M145.00 308.01L146.01 307.99L147.03 307.00L148.04 306.05L149.06 305.16L150.07 304.36L151.08 303.66L152.10 303.08L153.11 302.64L154.12 302.35L155.14 302.21L156.15 302.23L157.16 302.41L158.18 302.75L159.19 303.23L160.21 303.84L161.22 304.58L162.23 305.41L163.25 306.32L164.26 307.28L165.28 308.28L166.29 307.72L167.30 306.74L168.32 305.80L169.33 304.93L170.34 304.16L171.36 303.49L172.37 302.95L173.38 302.54L174.40 302.29L175.41 302.20L176.43 302.27L177.44 302.49L178.45 302.87L179.47 303.38L180.48 304.03L181.50 304.79L182.51 305.65L183.52 306.57L184.54 307.55L185.55 308.45L186.56 307.45L187.58 306.48L188.59 305.56L189.60 304.71L190.62 303.96L191.63 303.33L192.65 302.82L193.66 302.46L194.67 302.25L195.69 302.20L196.70 302.31L197.72 302.58L198.73 302.99L199.74 303.55L200.76 304.23L201.77 305.02L202.78 305.89L203.80 306.84L204.81 307.82L205.82 308.18L206.84 307.18L207.85 306.22L208.87 305.32L209.88 304.50L210.89 303.78L211.91 303.18L212.92 302.71L213.94 302.39L214.95 302.22L215.96 302.22L216.98 302.37L217.99 302.68L219.00 303.13L220.02 303.72L221.03 304.43L222.04 305.25L223.06 306.14L224.07 307.10L225.09 308.09L226.10 307.91L226.10 357.23L225.09 357.21L224.07 357.35L223.06 357.64L222.04 358.08L221.03 358.64L220.02 359.33L219.00 360.11L217.99 360.97L216.98 361.90L215.96 362.86L214.95 362.77L213.94 361.82L212.92 360.90L211.91 360.04L210.89 359.26L209.88 358.59L208.87 358.03L207.85 357.61L206.84 357.33L205.82 357.21L204.81 357.24L203.80 357.42L202.78 357.75L201.77 358.22L200.76 358.82L199.74 359.53L198.73 360.34L197.72 361.22L196.70 362.16L195.69 363.12L194.67 362.51L193.66 361.56L192.65 360.66L191.63 359.82L190.62 359.07L189.60 358.42L188.59 357.91L187.58 357.52L186.56 357.28L185.55 357.20L184.54 357.27L183.52 357.49L182.51 357.86L181.50 358.37L180.48 359.00L179.47 359.74L178.45 360.57L177.44 361.47L176.43 362.42L175.41 363.22L174.40 362.25L173.38 361.31L172.37 360.42L171.36 359.60L170.34 358.88L169.33 358.27L168.32 357.79L167.30 357.44L166.29 357.25L165.28 357.20L164.26 357.32L163.25 357.58L162.23 357.99L161.22 358.53L160.21 359.19L159.19 359.96L158.18 360.81L157.16 361.72L156.15 362.68L155.14 362.95L154.12 361.99L153.11 361.06L152.10 360.19L151.08 359.40L150.07 358.70L149.06 358.13L148.04 357.68L147.03 357.37L146.01 357.22L145.00 357.22Z" fill="#FCF0A0" fill-opacity="0.9"/>
<rect x="145.00" y="319.20" width="81.1" height="18.50" fill="#FBFA8C"/>
<rect x="145.00" y="319.20" width="20.90" height="18.50" fill="#878787"/>
<rect x="175.60" y="319.20" width="20.60" height="18.50" fill="#878787"/>
<rect x="205.70" y="319.20" width="20.40" height="18.50" fill="#878787"/>
<rect x="145.00" y="316.10" width="81.1" height="3.10" fill="#ED1C24"/>
<path d="M145.00 341.80H175.30M148.80 338.80L145.30 341.80L148.80 344.80M171.50 338.80L175.00 341.80L171.50 344.80" stroke="#111" stroke-width="1.25" fill="none"/>
<path d="M175.30 341.80H197.00M179.10 338.80L175.60 341.80L179.10 344.80M193.20 338.80L196.70 341.80L193.20 344.80" stroke="#111" stroke-width="1.25" fill="none"/>
<text x="156.78" y="354.50" font-size="13.5" font-style="italic" fill="#000">P</text>
<text x="180.53" y="354.50" font-size="13.5" font-style="italic" fill="#000">w</text>
<text x="122.79" y="320.60" font-size="14.2"  fill="#ED1C24">Gr</text>
<text x="122.17" y="333.90" font-size="14.2"  fill="#8C8C8C">Ag</text>
<path d="M231.20 320.30V335.80M228.40 323.90L231.20 320.60L234.00 323.90M228.40 332.20L231.20 335.50L234.00 332.20" stroke="#111" stroke-width="1.2" fill="none"/>
<text x="237.98" y="332.70" font-size="13.5" font-style="italic" fill="#000">h</text>
<path d="M524.70 321.27L525.71 321.26L526.73 320.21L527.74 319.20L528.75 318.25L529.77 317.39L530.78 316.65L531.80 316.04L532.81 315.57L533.82 315.26L534.84 315.11L535.85 315.14L536.87 315.33L537.88 315.68L538.89 316.20L539.91 316.85L540.92 317.63L541.93 318.51L542.95 319.48L543.96 320.50L544.98 321.56L545.99 320.97L547.00 319.93L548.02 318.93L549.03 318.01L550.04 317.18L551.06 316.47L552.07 315.89L553.09 315.47L554.10 315.20L555.11 315.10L556.13 315.17L557.14 315.41L558.15 315.81L559.17 316.36L560.18 317.05L561.20 317.86L562.21 318.77L563.22 319.75L564.24 320.79L565.25 321.75L566.26 320.69L567.28 319.65L568.29 318.67L569.31 317.77L570.32 316.97L571.33 316.30L572.35 315.76L573.36 315.38L574.37 315.16L575.39 315.10L576.40 315.22L577.42 315.50L578.43 315.94L579.44 316.53L580.46 317.26L581.47 318.10L582.48 319.03L583.50 320.03L584.51 321.08L585.53 321.46L586.54 320.40L587.55 319.38L588.57 318.42L589.58 317.55L590.59 316.78L591.61 316.14L592.62 315.64L593.64 315.30L594.65 315.13L595.66 315.12L596.68 315.28L597.69 315.61L598.70 316.09L599.72 316.72L600.73 317.47L601.75 318.34L602.76 319.29L603.77 320.31L604.79 321.36L605.80 321.17L605.80 380.43L604.79 380.41L603.77 380.56L602.76 380.86L601.75 381.31L600.73 381.89L599.72 382.60L598.70 383.41L597.69 384.30L596.68 385.25L595.66 386.24L594.65 386.16L593.64 385.17L592.62 384.22L591.61 383.33L590.59 382.53L589.58 381.83L588.57 381.26L587.55 380.83L586.54 380.54L585.53 380.41L584.51 380.44L583.50 380.62L582.48 380.96L581.47 381.45L580.46 382.07L579.44 382.81L578.43 383.64L577.42 384.55L576.40 385.52L575.39 386.51L574.37 385.88L573.36 384.90L572.35 383.97L571.33 383.10L570.32 382.33L569.31 381.66L568.29 381.13L567.28 380.73L566.26 380.49L565.25 380.40L564.24 380.47L563.22 380.70L562.21 381.08L561.20 381.61L560.18 382.26L559.17 383.02L558.15 383.88L557.14 384.81L556.13 385.79L555.11 386.61L554.10 385.62L553.09 384.65L552.07 383.73L551.06 382.88L550.04 382.14L549.03 381.51L548.02 381.01L547.00 380.65L545.99 380.45L544.98 380.40L543.96 380.52L542.95 380.79L541.93 381.21L540.92 381.77L539.91 382.46L538.89 383.25L537.88 384.13L536.87 385.07L535.85 386.06L534.84 386.34L533.82 385.35L532.81 384.39L531.80 383.49L530.78 382.67L529.77 381.95L528.75 381.36L527.74 380.90L526.73 380.58L525.71 380.42L524.70 380.42Z" fill="#FCF0A0" fill-opacity="0.9"/>
<rect x="524.70" y="341.90" width="81.1" height="18.40" fill="#FBFA8C"/>
<rect x="524.70" y="341.90" width="20.90" height="18.40" fill="#878787"/>
<rect x="555.30" y="341.90" width="20.60" height="18.40" fill="#878787"/>
<rect x="585.40" y="341.90" width="20.40" height="18.40" fill="#878787"/>
<rect x="524.70" y="328.40" width="81.1" height="3.40" fill="#ED1C24"/>
<path d="M524.70 365.00H555.00M528.50 362.00L525.00 365.00L528.50 368.00M551.20 362.00L554.70 365.00L551.20 368.00" stroke="#111" stroke-width="1.25" fill="none"/>
<path d="M555.00 365.00H576.70M558.80 362.00L555.30 365.00L558.80 368.00M572.90 362.00L576.40 365.00L572.90 368.00" stroke="#111" stroke-width="1.25" fill="none"/>
<text x="536.48" y="377.40" font-size="13.5" font-style="italic" fill="#000">P</text>
<text x="560.23" y="377.40" font-size="13.5" font-style="italic" fill="#000">w</text>
<text x="502.69" y="333.10" font-size="14.2"  fill="#ED1C24">Gr</text>
<text x="501.47" y="355.50" font-size="14.2"  fill="#8C8C8C">Ag</text>
<path d="M610.00 331.80V341.30M607.60 334.40L610.00 332.10L612.40 334.40M607.60 338.70L610.00 341.00L612.40 338.70" stroke="#111" stroke-width="1.2" fill="none"/>
<path d="M610.00 341.90V359.00M607.20 345.50L610.00 342.20L612.80 345.50M607.20 355.40L610.00 358.70L612.80 355.40" stroke="#111" stroke-width="1.2" fill="none"/>
<text x="619.17" y="340.40" font-size="13.5" font-style="italic" fill="#000">s</text>
<text x="618.38" y="356.50" font-size="13.5" font-style="italic" fill="#000">h</text>
</svg>
</body></html>
